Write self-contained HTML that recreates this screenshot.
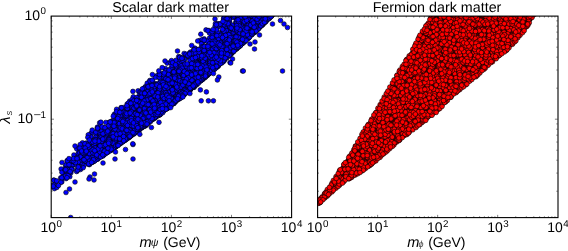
<!DOCTYPE html>
<html><head><meta charset="utf-8"><title>Dark matter scatter</title>
<style>
html,body{margin:0;padding:0;background:#fff}
body{width:568px;height:251px;overflow:hidden}
svg{display:block}
text{font-family:"Liberation Sans",sans-serif;fill:#000;text-rendering:geometricPrecision}
.tt{font-size:14.3px}
.tk{font-size:14px}
.sp{font-size:9.8px}
.lb{font-size:14px}
.mm{font-size:14.6px}
.ss{font-size:6.9px}
.sb2{font-size:9px;fill-opacity:.75}
.it{font-style:italic}
.sb{font-size:10.5px}
.b path{fill:none;stroke:none;marker:url(#mb)}
.r path{fill:none;stroke:none;marker:url(#mr)}
.r path.ur{fill:#400;stroke:#200;stroke-width:2;marker:none}
.ax{fill:none;stroke:#000;stroke-width:1.1}
.tc{fill:none;stroke:#000;stroke-width:0.5}
</style></head><body>
<svg width="568" height="251" viewBox="0 0 568 251">
<defs>
<marker id="mb" markerUnits="userSpaceOnUse" markerWidth="8" markerHeight="8" viewBox="-4 -4 8 8" refX="0" refY="0"><circle r="2.35" fill="#0000ff" stroke="#000" stroke-width="0.6"/></marker>
<marker id="mr" markerUnits="userSpaceOnUse" markerWidth="8" markerHeight="8" viewBox="-4 -4 8 8" refX="0" refY="0"><circle r="2.35" fill="#ff0000" stroke="#000" stroke-width="0.6"/></marker>
<clipPath id="c1"><rect x="51.2" y="16.1" width="240.4" height="201.5"/></clipPath>
<clipPath id="c2"><rect x="317.6" y="16.1" width="240.4" height="201.5"/></clipPath>
</defs>
<rect width="568" height="251" fill="#fff"/>
<g class="b" clip-path="url(#c1)"><path d="M203.2 78.3L99.4 137.8L206.8 57.3L228.4 55.8L198.7 65.9L67 166.0L228.4 12.1L166.1 108.1L131.3 110.6L189.2 65.8L145.4 119.0L181.6 63.7L244.6 10.9L242.6 32.8L145.1 105.3L226.1 38.9L123.2 118.2L109.5 146.5L188.6 91.3L196.1 63.4L148.3 108.1L154.5 118.2L275.4 -23.0L133.5 134.0L176.5 85.5L226.8 33.8L217.8 45.3L233.5 31.3L131.1 124.2L259.2 -7.8L227 55.0L296.2 -38.2L287.6 -1.9L187.2 86.8L222.7 51.0L84.2 149.1L138.1 90.8L139.5 94.1L179.8 96.5L224.3 22.1L277.4 9.2L146.3 123.9L252.2 10.1L167.1 108.1L190.1 83.0L289.2 -2.5L242.2 4.2L193.8 72.4L226.2 20.7L152.7 114.7L187.2 74.2L272 14.5L235.7 48.7L175.9 60.3L140.1 91.8L100.4 154.9L123.3 136.1L200.8 63.2L229.7 39.3L111 131.3L124.6 120.0L143.1 109.3L292.3 -10.2L172 71.8L266.7 -18.6L210.4 47.9L212.5 68.0L254.7 14.7L203 57.4L135.3 111.6L213.2 67.3L97.9 143.1L89 155.1L132 125.8L188.2 72.7L190.4 64.7L208.6 73.1L279.8 -31.2L125.3 113.5L252.6 7.6L165.4 68.6L278.8 -13.6L168.7 107.1L216.7 38.6L164 75.4L299.8 -37.0L198.2 82.4L210.5 51.0L97 153.0L150.6 101.9L299.9 -43.5L132.4 109.7L232.2 43.2L111.3 142.1L129.4 121.7L203.5 66.2L111.3 125.5L160.7 113.3L178.7 56.6L232.4 32.5L112.2 121.4L82.6 145.5L287.6 -38.7L282.4 -3.4L265.7 14.1L213.5 49.8L187.8 72.7L221.2 44.4L108.1 139.9L267.1 -4.0L290.3 -19.9L240.2 22.7L222.7 40.9L62.7 178.2L124.7 140.5L220.2 50.8L238.4 32.5L232.4 52.1L288 -7.4L203.4 51.5L213 69.5L273.2 -2.8L282 0.2L149.5 120.5L206.4 72.8L191.1 88.1L190.5 52.0L260.8 7.5L281 -20.3L235.8 22.2L117.7 134.7L287 -18.1L112.7 145.7L136.7 119.0L197.2 81.3L218.1 54.7L86.2 151.4L125.4 128.9L152.9 119.0L224.3 39.8L125.1 112.7L143.5 110.7L179 63.3L275.7 -2.5L131.6 118.3L288 -23.7L91.7 157.0L144.8 124.1L177.6 75.6L158.9 110.5L186.5 79.4L202.2 78.3L231.3 33.8L168.7 101.1L294.9 -9.0L244.9 41.4L147.1 103.5L279.8 -15.2L124.6 136.2L246.4 33.1L180.7 83.6L149.7 104.9L210.9 48.6L136 121.6L133.5 132.2L145.2 119.2L188.4 80.3L254 17.0L173.7 85.4L138 126.1L207.8 46.3L265.5 -8.7L240.3 41.2L278.5 4.3L274.3 2.9L206.4 75.5L193.7 65.9L165.8 106.0L149.9 94.7L236.6 27.5L162.3 96.4L195.3 61.3L194.5 71.1L176.5 99.0L270.1 14.0L160.3 107.9L216.6 34.8L157 105.6L76.4 158.4L175.6 87.2L269.2 -25.3L140.8 127.7L254 26.7L211.1 63.7L265.7 -5.1L200.9 61.9L224.6 32.0L180.8 90.8L183.9 73.2L125 139.7L172.4 103.8L206.7 60.7L183.3 65.8L154.6 113.5L130.1 109.9L146.4 124.0L150.6 117.5L149 100.2L183.3 82.7L125.1 119.9L116.7 135.2L202.3 77.5L213 66.3L296.8 -12.5L127.9 137.3L130 125.5L216.7 37.3L173.7 102.0L124.6 125.8L121.5 122.7L178.7 80.6L197.9 82.4L276.8 -11.0L253.5 31.9L116.1 142.1L213.6 68.3L247.9 15.5L138.3 119.2L261.3 18.5L211.6 35.6L135.2 112.0L258.5 26.7L289.9 -2.7L174.2 100.8L181.4 73.8L271.4 -25.0L114.3 129.7L233.5 15.4L265.6 21.5L159 114.9L138.9 128.7L227.2 30.0L180.4 97.9L234 35.4L87.7 158.6L145.8 100.2L148.6 122.1L203 73.9L131.3 121.6L287.5 -22.1L276.3 3.6L114.9 123.6L140.8 127.7L99.6 156.3L206.1 48.5L146.6 121.0L236.8 15.0L136.9 130.0L147.8 118.0L133.7 98.1L298.2 -26.6L251.7 9.4L115.2 141.7L210.7 47.3L150.8 109.5L116.4 135.9L262.7 24.8L236.2 43.8L195.2 60.9L171.2 99.3L159.5 106.1L125.7 137.0L201.9 76.5L201.9 53.3L184.7 94.3L242.3 32.2L190.3 89.1L297.9 -15.8L195.4 77.6L209.7 65.9L279.3 1.1L148.3 123.0L132.4 121.9L165.1 102.5L174 99.4L156 116.6L133.8 106.1L213.3 52.6L231 47.5L204.4 40.5L211.7 68.0L187.5 72.2L139.7 110.2L141.8 122.2L152.9 115.8L166.4 84.2L273.5 14.0L188.4 72.0L147 99.9L181.2 86.8L278.4 -12.2L151.7 105.5L288.3 -11.8L188 89.4L108.4 129.7L278 8.4L151.4 104.8L263.2 10.9L252.5 2.6L286.9 -19.6L96.6 136.1L137.5 114.6L230.6 30.9L274.5 -16.7L109.6 142.7L288.2 -40.1L156.1 100.7L194.3 59.4L112.5 134.2L155.3 117.5L259.1 20.7L195.5 61.6L151.2 110.1L259 27.2L253.6 21.1L271.4 -21.5L135.4 132.3L159.3 73.5L186 88.9L175.3 69.2L115.5 128.4L152 106.0L241.4 38.1L268 10.4L83.1 152.9L143.9 106.2L244.6 20.2L286.3 -3.4L228.9 51.0L236.6 34.1L263.4 14.5L296.6 -11.3L156.2 84.7L229.4 39.8L230 26.4L184.3 77.0L82.8 153.3L218.4 65.9L250.9 24.7L249.1 20.4L268.2 11.2L295.9 -9.4L129.8 126.1L219.2 40.4L198.9 75.4L184 59.5L120.9 109.5L183.4 90.1L131.8 127.2L215.6 65.1L185.6 54.6L101.3 134.7L202 60.0L252.3 32.3L136.6 117.7L209.5 38.2L176.2 79.3L255.6 10.2L268.6 17.8L147.1 123.3L153 96.4L212.6 48.0L106 142.2L251.2 28.8L188.3 65.5L175.5 97.4L123 129.8L154.3 90.1L239 30.5L264.2 22.5L143.1 108.5L159.3 94.8L138.8 97.2L226.4 44.8L267.3 -18.9L182.5 95.9L142.7 118.3L175.8 83.8L245.4 20.5L198.9 72.8L127.6 136.8L157.6 112.5L235.1 40.1L233.7 35.3L227.3 49.8L232.5 34.8L88.2 152.3L260.8 0.8L264.7 18.6L105.6 151.4L273.7 6.0L193.4 74.1L179.4 74.6L223.1 31.1L288.2 -9.4L282.2 -11.9L270.9 4.0L153.2 82.5L85.3 156.5L116.1 145.1L244.9 40.3L288.9 -9.3L220.8 58.3L280.5 3.9L156.6 97.0L263.1 9.1L139.6 117.3L293.9 -27.8L251.8 2.1L173.2 91.8L105.6 134.7L202.2 61.2L270.5 -5.0L137.7 105.2L265.4 -1.3L70.9 172.7L254 32.5L245.2 12.1L259.8 2.0L123.4 135.3L154.6 115.0L203.2 41.5L225.9 39.0L107.6 138.4L174.8 96.3L187.2 92.4L241.2 4.3L166.1 90.4L149.2 98.5L276.1 -4.5L198.6 67.8L203.1 77.7L190.8 78.9L265.4 -6.6L292 -31.6L251.6 16.8L131 129.8L125.7 120.9L143.5 121.1L145.4 86.7L235.6 11.6L128.5 121.8L240.8 31.0L191.4 54.2L228.5 48.3L126.9 129.1L199.8 40.5L207 74.8L261.9 -0.4L251 19.3L180.1 57.3L209.9 70.0L224.9 56.0L269.6 -7.3L203.8 59.8L250.5 34.4L123.8 140.4L167.6 94.5L108.9 150.9L205.2 70.6L143.9 91.8L293.8 -32.4L177.4 82.1L190.1 88.3L131.6 134.8L291.9 -5.1L226.7 43.0L241.3 39.8L195.9 70.4L245.1 25.1L291.8 -11.4L278.4 -18.5L174.7 65.7L109.4 124.4L208.2 74.5L162 80.7L199.2 59.2L253.8 29.2L286 -0.3L137.9 98.0L177 98.9L297.7 -13.2L146.9 103.5L175.5 100.0L213.4 48.3L70.4 167.6L267.1 11.4L227 44.6L164.1 106.8L130.1 116.5L292.3 -14.6L142.3 125.5L282.9 4.0L193.6 83.3L206.7 73.5L112.4 141.4L190.9 77.5L186.6 88.7L171.8 81.9L291.9 -38.2L236.4 18.6L113.1 125.0L181.1 84.5L181.3 61.1L133.4 127.2L219.1 37.8L277.1 -20.6L246.3 28.5L280.3 -6.5L187.3 79.5L271.6 -6.0L124.1 126.9L115.2 137.2L126.6 138.3L141.4 109.0L126.5 120.0L105.5 153.4L213 57.9L276.1 9.0L98.4 152.9L245.1 36.5L255.7 30.8L250.2 20.3L236.4 44.2L165.8 108.3L281.2 -14.8L283.1 4.0L61.8 181.9L175.8 100.0L292.6 -10.6L163.2 84.7L118.9 131.3L210.1 69.0L254.2 23.6L188.8 90.6L252.3 12.4L97.7 130.0L183.8 91.8L279.2 -34.6L211.9 71.0L292.2 -21.3L201.2 79.1L203.7 75.0L165.3 105.3L117.4 125.8L248.1 32.0L154.5 116.2L92.4 162.2L236.7 12.1L74.9 156.8L299.6 -51.9L79.6 163.0L232.7 16.2L195.8 56.4L293 -8.6L215.8 65.8L76.7 148.8L131.6 117.8L285.6 -19.0L140.7 111.9L127.5 121.1L274.2 3.9L80.5 169.5L69.7 161.5L243.5 24.1L97.4 127.2L292.8 -10.2L137.5 131.1L218.2 53.1L114.3 114.4L99.3 147.0L72.5 164.9L159.8 83.5L146 107.0L241.8 26.3L243.4 4.9L200.7 78.8L98.8 157.6L252.7 32.9L226.8 56.7L122.2 133.3L129.1 124.8L294.1 -14.2L127.8 131.7L242.9 39.4L159.2 102.8L268.9 -0.2L195.9 81.5L284.7 -3.2L116.4 131.1L184.6 85.9L130.2 136.2L159.1 85.7L210.8 40.1L254.5 22.5L146.3 113.3L295.4 -36.8L116.6 109.3L161.2 112.3L80.4 150.4L209.1 73.2L133.8 125.7L152.1 114.8L137.3 119.5L220.2 62.6L153.9 105.4L204.6 72.5L142.3 125.0L241.4 26.5L66.6 176.6L145.5 102.1L287.5 -25.5L217.9 42.7L160.5 105.4L274.7 -24.4L297.3 -44.6L296.2 -12.1L206.2 64.8L146.3 119.3L215.6 55.5L197.3 52.7L272.8 6.6L256.6 11.0L272.4 14.3L236.8 5.4L283.7 -31.0L226.8 57.1L279.4 -7.8L179.5 96.7L181.8 96.3L206 29.9L227.1 36.4L263.3 -4.1L158.4 103.3L282.1 4.3L215.1 34.6L213.9 65.5L269.8 -9.9L159.2 102.6L144.2 111.4L168.8 79.1L193.5 75.9L137.6 131.2L127.8 111.8L145.4 114.5L252.4 17.7L163.5 97.8L143.2 121.1L77.9 168.1L90.6 163.1L290.1 -9.4L234.4 45.2L210.1 58.6L227.7 23.2L236.4 22.4L258.5 24.5L254.8 10.1L210.5 61.4L120.1 140.2L286.2 1.1L251.5 -2.0L251.2 35.1L174.5 77.0L101.1 142.0L194.9 52.2L212.4 65.5L184 92.6L193 82.2L165.9 87.2L218.6 58.6L262.4 -10.8L200.9 71.5L134.5 115.9L165.8 70.8L126.2 139.5L81.9 156.3L247.6 14.0L154.4 92.3L241.9 41.8L187.2 90.8L264.5 3.7L137.8 123.8L222.5 25.9L103.7 133.8L147.4 123.9L136.4 127.8L230.5 17.2L237.3 47.9L205.1 58.8L154.3 108.0L171 98.1L126.7 127.1L217.5 54.5L219.1 24.0L253.7 6.3L193.1 61.3L159.8 91.9L190.9 73.7L287 -2.1L272.8 -5.3L245.9 31.3L229.4 52.5L220.5 41.3L269.6 -22.3L192.6 77.9L124.5 118.7L287.6 -1.1L178.5 68.4L197 57.8L130.7 135.2L183.1 86.6L278.3 2.8L275.8 8.5L239.2 40.1L205.5 75.6L135.9 111.4L260.6 12.2L158.2 96.4L102.6 132.3L96.9 158.4L294 -40.1L276 9.9L203.1 68.8L236.1 47.5L108 133.4L219.4 48.7L195.9 52.2L279.1 2.4L263 22.1L151.6 115.9L297.1 -31.3L260.3 26.4L215.9 51.5L144.7 106.5L115.5 133.3L287.8 -9.5L272.5 -21.5L207.7 72.3L215 41.7L293.4 -32.7L204.7 47.3L161.3 106.9L111.5 127.6L279.6 8.0L166.8 94.8L293.9 -15.6L126.9 128.6L263.5 23.5L84.4 161.5L286.3 -12.6L255.1 28.2L237.4 31.7L255.4 30.9L208.6 73.4L278.3 -15.5L200.1 58.6L238.5 15.8L197.9 69.7L214 46.3L236.8 38.9L207.9 70.5L285.8 1.4L279.2 7.1L145.5 123.2L252.4 -4.9L148.4 106.8L242.7 26.2L212.4 66.5L112.3 137.9L134.2 117.2L104.2 154.2L127.4 108.6L215 51.0L241.7 36.3L224.3 33.4L134.5 103.4L294.9 -34.9L280.5 7.0L128.4 136.6L133.2 126.5L144.2 118.4L227 51.4L133.1 114.2L157.8 85.5L153.8 89.3L274.2 12.5L217.5 49.4L225 17.2L291 -18.7L127.1 104.1L213.9 64.7L226.6 53.9L207 64.7L158.9 113.9L192.3 87.4L152.3 118.2L217.4 23.7L267 12.9L232.8 42.8L163.5 104.3L251.7 -8.7L231.9 53.1L149.4 108.8L177.7 87.4L138.9 106.3L207.4 53.3L164.3 86.5L131.7 124.7L269.2 4.3L151.8 94.3L233 26.6L145.2 118.9L249.9 33.9L212.2 52.1L149 99.4L171.1 104.4L137.7 126.7L250.8 31.1L214.8 65.8L159.3 114.3L230.6 53.9L142.5 117.7L156.6 116.3L224.4 59.6L288.7 -1.6L155.8 111.5L137.4 114.6L119.3 140.9L169.7 105.7L131 116.4L283.1 -4.3L281.1 4.8L281.7 -1.5L284.9 -18.1L159.6 109.8L134.2 123.3L128.8 136.9L158.2 91.3L218.2 59.8L89.4 136.5L209.1 59.0L180.6 90.6L212 69.5L96.4 137.5L287.8 -1.7L176.1 101.0L94.7 147.1L289.2 -2.9L297.5 -34.0L191.1 66.9L187.5 87.3L153.7 109.4L164.9 97.9L229.7 26.7L206.3 71.2L187.6 79.0L166.3 108.7L180.9 93.9L72.7 163.8L228.6 19.2L101.4 135.5L95.1 149.6L138.2 128.7L116.3 130.5L266.1 6.2L252.9 17.2L279.8 3.5L238.3 18.7L286.4 -21.7L250.9 5.1L103.3 152.6L222.5 60.4L296.8 -9.5L153 115.9L229.5 21.1L261.1 26.1L290.3 -18.2L129 126.2L81.6 153.4L222.8 36.7L194.8 49.1L194.3 83.5L91.2 133.0L284.1 1.1L298.6 -52.0L193.7 84.0L189.4 80.8L140 106.8L156.7 96.5L176.5 81.3L271.1 2.4L271.1 15.5L184.1 78.7L252 19.9L122.4 141.6L157.1 95.1L184.1 53.5L109.8 124.2L115.4 146.8L272.7 12.9L141.8 126.3L272.1 -20.6L197.6 77.5L257.5 11.3L225.6 56.2L280.3 6.5L218 59.2L155.3 108.2L214.8 66.2L275.3 -7.0L281.6 -11.0L104.5 154.2L221.6 50.0L242.1 34.0L138.5 118.2L148.3 101.1L241.7 38.9L184.7 80.2L166.5 97.7L294.7 -9.4L160.2 105.1L124.5 140.6L115.8 138.4L210.4 70.2L286.3 0.4L233.4 45.1L153.1 115.5L168 107.8L116.6 144.3L175.9 88.6L278.1 -19.5L292.3 -5.7L123.5 139.0L295 -8.8L280.4 -18.9L187.8 82.6L251.8 17.9L154.5 113.8L140.4 128.2L195.4 79.5L125.9 133.1L286.5 -1.9L257.3 -3.9L241.5 20.8L161 87.4L269.7 18.0L233 50.0L229.7 22.9L161.2 94.1L185.3 65.6L148.6 99.6L96.2 155.2L122.3 117.5L86.1 143.0L274.6 -2.7L115.4 138.1L104.6 153.3L206.3 76.1L284.5 -11.1L138.9 116.4L293.7 -15.4L99.5 139.3L167.6 101.8L184 74.3L159.3 107.1L100.7 150.6L223.9 50.2L192.1 76.0L127.2 137.5L280.6 -17.8L286.4 -14.8L269.2 15.6L141.6 116.1L280.4 -6.5L211.7 71.5L263.1 15.4L206.9 58.3L159.9 92.8L195 48.2L246.3 16.2L95.4 133.7L287.9 -29.8L215 64.6L241.4 27.7L173.8 97.3L184.5 59.3L281.1 -11.8L120.1 132.8L112.7 148.3L249.7 33.1L117 143.9L137.8 98.1L203.2 55.9L137.7 123.3L285.3 2.4L257.6 27.5L97.8 148.8L230.4 54.2L172.5 104.1L100.4 154.4L143.2 97.1L248.4 37.6L263.9 21.3L102.2 141.9L229.3 43.2L181.5 70.4L166.4 91.2L269.3 17.2L299.6 -23.2L299.2 -16.8L157 115.7L100.1 146.3L164.2 105.0L234 27.8L203.2 78.8L215.4 67.3L215.2 32.4L175.7 73.1L170.5 102.5L106.5 140.9L99.7 156.0L200.9 78.7L279 -7.3L211.8 55.7L103.2 146.3L231.2 46.8L247.6 33.7L291.3 -36.0L123.5 124.1L280.1 7.5L203.4 40.8L89 161.2L186.1 70.4L250 35.5L202.7 74.8L294.2 -38.1L266.2 20.7L249.4 19.3L225.3 58.2L252.6 29.3L241.7 15.1L282.2 2.4L269.1 14.4L151.3 115.2L281.7 4.4L112 148.6L99.6 147.4L197.4 65.2L119.8 139.6L133.4 123.0L142.6 113.8L70.2 165.1L176.8 93.4L144.7 92.1L130.6 134.5L253.8 -0.9L202.3 54.4L197.7 69.5L190.6 89.6L242.4 32.0L232 52.8L220 45.8L227.8 35.0L282.5 0.3L271.7 -1.1L160.9 95.9L273.5 6.6L116.1 137.6L143.8 103.2L138.1 109.7L162.4 87.4L82.8 147.6L104.1 147.8L121.1 130.4L286.5 -13.4L139.2 125.0L284.6 -2.2L141.1 127.1L274 9.9L104.6 144.2L139.4 129.6L297.1 -19.5L251 21.5L293.2 -25.0L255.9 12.1L153.9 115.3L222.7 61.0L65.6 166.5L219.7 37.1L127.9 130.1L138.3 117.8L248.5 31.9L133.3 96.8L237.3 40.2L274.3 13.6L94 148.4L173.3 92.4L141 112.3L127.3 121.7L216.6 42.9L171.8 91.0L215.8 53.8L281.9 5.2L182.4 91.4L241 37.4L216.4 54.6L211.7 67.1L297.1 -33.8L109.5 150.8L155.2 113.2L224 57.9L230 40.9L282.3 -11.2L173.8 86.8L231 49.2L234.4 39.2L173.7 93.6L150 99.1L270.9 11.6L108.4 146.3L231.2 17.0L286.8 -36.5L193.1 58.7L259.5 -0.0L238.5 45.2L117.2 138.0L132.9 127.3L121.6 142.2L292.7 -32.7L258.8 -9.8L193.4 55.7L198.1 81.1L277.4 -21.0L170 72.5L127.6 122.8L120 143.8L226.3 23.9L285.5 -15.2L136.6 130.1L207 69.8L135.9 120.4L120.9 127.3L148.6 111.0L244 7.7L124 112.2L132.4 120.0L252.8 23.2L239.7 30.3L150.8 100.0L128.2 133.4L179 69.1L200.5 51.8L187.4 90.9L166.1 108.7L149.8 80.5L277.9 4.1L259.3 -15.9L211.6 58.9L112 144.8L282.9 -14.9L236.5 48.4L150.8 119.5L122.6 127.4L98.9 142.0L146 117.9L165 94.4L166.6 95.4L238.9 39.6L235.3 48.8L188.6 90.3L192 80.3L238.6 21.2L182.3 76.5L176.8 68.3L192 86.1L271.3 13.6L217.8 63.8L138.8 104.6L132.1 127.8L158.9 112.2L240.9 12.6L245.8 29.6L168.7 92.2L83.2 163.8L109.9 123.1L243.9 37.4L123.3 130.0L73.9 155.0L228.5 45.6L296 -24.2L217.5 55.1L250.9 34.7L235.8 46.1L190.3 66.4L259.8 13.4L243.3 42.9L103.9 142.6L277 -33.0L253.3 29.4L248.4 35.2L238.7 42.1L223.4 30.4L66.1 178.6L217.2 54.1L208.4 59.7L75.7 164.7L152.7 118.7L163.5 75.6L243.2 26.5L284.1 -7.6L293.3 -9.1L145.2 122.3L151.5 112.3L283.3 0.5L268.6 18.2L194.6 52.9L264.1 13.5L85.2 152.2L232.3 8.3L213.7 40.1L257.1 13.1L103.4 130.7L206.3 55.5L137.5 103.6L215.9 57.7L204.7 77.8L114.5 145.2L155.5 94.2L145.5 123.2L202.4 77.8L140.2 114.3L195.5 60.7L189.3 53.3L247 13.4L185.2 83.1L209.7 44.5L147.4 122.0L196.4 84.9L201 61.3L213 69.7L295.1 -7.9L180.1 80.6L209.9 54.8L257.7 18.0L167.3 83.1L172.7 71.7L270.2 -10.0L133.7 126.9L103 155.5L266.6 13.0L132.5 134.2L266.4 15.8L145.9 104.8L235.1 48.6L69.8 176.7L199.8 79.5L287.1 -0.7L205.3 58.2L277.3 9.5L135.4 106.5L211.5 56.0L221.4 46.4L120.1 138.9L220.1 61.2L92.2 130.1L280.2 -12.9L179.9 59.0L155.5 111.3L197.8 57.4L297.8 -47.4L212.4 62.7L80.7 166.1L132 114.1L275 -5.3L209.6 72.5L191.4 66.2L125.3 131.1L181.3 96.3L127 137.6L192.5 53.1L155.8 114.3L143.2 122.8L199.7 79.0L153.2 94.7L116.2 128.7L240.9 28.6L268.9 17.8L146.9 104.2L286.4 -2.9L173.2 82.9L110.8 147.7L148.2 100.0L123.5 121.5L291.9 -32.9L206.2 70.5L151.7 100.0L188.4 86.1L293.1 -28.7L99.9 133.7L274 10.6L299.8 -13.6L262.9 23.0L274.7 -3.9L291.9 -37.6L117.5 142.6L278.1 8.9L223.6 44.3L250.7 19.0L207.7 51.6L147.2 83.2L153 101.2L187.6 83.7L126.2 128.6L142.4 118.1L150.2 104.8L192.8 75.9L265.7 -11.2L222.8 59.7L93.1 160.5L115.9 140.5L234.4 48.4L208.4 49.6L223.2 49.1L280.4 4.1L116.2 141.0L124.3 135.2L239.6 11.3L245.7 29.3L299.4 -28.5L117.5 141.2L198.4 72.5L89.3 135.2L291.8 -27.7L256.6 30.6L144.2 121.6L260.5 16.7L173.7 79.7L188.2 73.5L169.4 80.2L126 131.6L218.6 60.8L258.9 7.2L223.1 40.1L285.7 -1.6L167.4 108.4L177.3 83.7L155.2 101.8L296.1 -9.6L112.7 120.6L213.4 69.2L169.3 93.6L194.1 76.1L217.1 48.8L287.4 -13.9L93.8 160.6L125 138.5L129.7 101.1L279.1 -5.8L190.5 89.1L169.2 107.0L180.7 85.6L233.9 44.5L136.7 112.2L220.1 44.0L124.2 139.9L261.5 24.4L261.8 21.0L78.7 153.4L183.7 70.6L107.6 140.3L124.1 129.8L191.3 81.4L289.3 -32.3L193.2 72.9L202.1 78.9L263.9 4.1L152.3 95.2L176.2 87.0L264.1 9.8L241.9 16.7L116 139.3L141.2 123.8L266.5 -11.3L231.6 29.4L292.4 -21.2L290.6 -9.8L64 174.5L173.8 74.8L260.3 -6.7L188.5 91.0L182 69.2L207 70.2L254.2 28.2L102.3 149.6L255.8 24.0L146.3 100.3L283.7 -24.0L174.1 102.5L161 90.6L288.9 -1.1L217.6 59.5L146.5 116.7L276.7 8.9L242.8 17.5L142.3 118.5L280.5 3.1L290.6 -46.2L219.3 51.3L278.8 -7.7L210.1 59.1L201.4 64.1L209.9 71.8L101.1 151.0L298.2 -38.4L163.6 102.1L117.3 134.6L228.8 51.7L207.6 75.3L143.9 115.9L278.1 -11.4L146.8 111.0L269.8 11.8L155.4 84.2L289 -8.1L247.8 32.8L141.9 127.8L229.8 41.4L143.1 102.1L217.8 62.6L219 64.1L276.3 6.4L193.3 62.7L252 17.2L125.7 125.6L160 97.1L249.1 -1.6L266.8 1.5L161.8 111.3L270.9 16.3L286.9 -33.6L128.3 138.0L279.5 -10.0L99.6 138.2L289.4 -11.4L161.5 102.9L172.5 103.3L267.5 18.1L218.4 65.4L281.3 5.5L185.4 82.5L103 150.8L60.7 177.9L298.6 -23.5L219 45.7L122.8 129.7L267.3 -1.8L251.8 18.7L196.6 65.6L294.1 -6.9L208.4 73.6L148 117.5L263.2 22.6L213.2 68.4L237 47.1L272.3 0.4L227.6 44.5L287.8 -1.8L266.1 19.1L262.7 -10.3L206.1 61.8L208.9 30.5L200 75.4L158 114.9L229.8 44.9L273 4.3L208 55.1L265.4 -8.7L148.2 121.1L120.8 115.3L276.8 1.8L160.3 110.6L160.6 86.1L117 134.9L299.4 -12.1L278 -0.5L171.9 95.6L204.2 38.9L115.5 146.8L219.7 47.7L220.6 47.4L219.6 59.8L242.2 43.7L280 4.9L236.9 6.9L179.6 57.4L171.9 103.5L113.5 145.8L199.9 55.4L116.6 142.4L140.4 124.7L251.5 34.7L123.1 129.9L210.2 70.3L168 99.3L299.1 -29.1L275.5 6.4L253.5 31.9L214.6 61.3L131.5 128.2L189.4 73.4L209.4 53.1L187.1 90.6L291.8 -26.6L124.6 113.7L226.7 37.6L271.3 8.3L207.1 41.2L71.9 165.7L260.5 -4.5L147.4 122.9L82.7 143.9L255.2 13.8L181.2 91.3L291.4 -12.3L127.9 128.8L77.2 170.9L266.5 20.2L110.1 147.4L251.4 33.8L232.4 43.0L233.7 25.8L258.1 28.3L157.9 110.5L158.9 109.9L256.1 12.5L202.2 39.7L182.4 91.0L69.8 172.1L163.1 97.2L177 65.8L166.6 108.6L293.7 -6.7L256.5 20.7L103.7 134.1L102.2 139.3L229.4 49.8L218.5 37.6L155.9 107.1L264.9 16.0L258.7 18.1L214.1 69.1L112.4 140.1L265.5 16.6L157.1 113.9L118.5 127.5L285.7 0.1L143.4 113.7L295.3 -30.8L241.8 43.6L212.8 69.1L231.5 46.4L106.1 152.1L236.7 20.2L110.8 133.6L135.7 113.8L270.5 9.5L212 59.4L266.8 2.0L62.8 177.0L172.1 99.2L260.2 22.6L215.5 64.1L241.4 40.8L267.2 3.5L202.1 51.7L122.9 118.6L201.8 74.0L242.3 23.3L197.3 80.0L207.8 52.9L102.3 151.5L203.6 68.8L257.5 27.9L66.8 172.8L159.8 111.7L182.9 75.1L101.7 150.1L284.7 1.8L188.6 67.0L122.3 125.9L208.1 56.9L216.5 28.6L159.3 91.2L102.9 150.6L208.4 55.7L119.1 136.4L157.9 112.4L191.1 87.4L252 34.3L219.2 46.1L249.2 37.0L163.2 86.4L211.4 57.2L134.7 123.5L131 102.0L125.2 120.9L104 137.0L233.5 31.5L112.8 122.3L297.8 -27.6L157.1 113.9L164.9 99.6L122.5 121.5L296.9 -11.3L193.2 60.5L123.3 121.3L190.9 82.8L285.7 1.4L152.4 114.5L261.2 -4.3L217.6 62.6L132.8 114.0L94.4 156.9L91.8 153.5L289.7 -42.5L156.7 75.8L137.8 120.8L257.3 12.4L218 40.8L66.9 172.3L213.5 59.3L169.3 100.0L111.7 148.8L230 52.7L71.2 160.3L81.8 163.1L250.6 15.4L139.7 114.6L115.8 113.9L172.7 72.2L204.4 49.1L291.7 -25.2L270.1 5.5L228 45.3L124.8 123.0L276.6 -22.5L206.9 56.2L251.5 17.7L192.8 86.4L246.2 32.1L110.9 144.6L286.2 -14.5L238.2 14.4L134 116.7L98.3 158.4L269.1 13.9L248.4 27.5L295.1 -29.9L248.2 37.7L147.1 91.1L159.6 106.2L132.7 126.6L130.8 109.9L224.3 27.1L105.5 153.4L207.4 49.5L110 148.5L167.2 102.7L279.6 7.7L258.1 -7.0L264.7 14.8L170.7 68.6L209.2 50.6L128.1 123.5L215 42.1L87.3 144.1L170.9 92.7L139.1 109.9L148.2 112.5L192.9 77.5L272.7 6.7L267.4 6.6L145.6 98.1L168.9 100.8L209.7 60.8L175.2 92.3L95.9 159.4L226.2 57.9L90.3 137.9L199.3 63.9L213.6 49.8L285.3 -16.0L149.3 103.9L127.7 125.9L143.6 97.7L286.6 -29.8L205.9 53.5L291.1 -24.4L259.1 27.0L132.9 124.8L248.3 11.8L299.2 -43.4L152.8 115.9L289 -4.3L266.9 -11.9L214 55.2L287.1 -18.2L299.2 -37.2L229.1 55.3L161.8 86.8L226.3 14.6L211.2 45.3L139.2 129.8L294.9 -24.1L293.4 -7.7L108.8 146.9L121.1 107.6L136.2 123.6L202.9 76.1L270.4 -8.2L104.4 132.8L275.8 8.1L252.9 32.5L109.2 146.4L114.7 131.4L215.1 61.5L277.6 6.4L194.3 57.0L111.2 150.3L121 120.1L241.8 6.5L287 -2.5L115.4 142.5L193.4 53.0L174.2 83.5L249.6 35.0L262.7 -3.8L96.7 148.4L221.3 62.7L205.6 71.9L272.5 10.8L260.2 16.9L123.2 141.0L123.1 140.8L110.3 132.3L254.3 26.1L279 7.5L112.3 147.7L277.1 -18.2L268.2 3.8L223.9 59.4L98.7 148.9L175.4 101.3L97.7 159.2L214.8 49.8L166.6 90.0L197.8 72.3L194.6 60.9L188.5 74.0L141.5 110.5L257.4 11.4L286.3 -1.0L128.4 125.5L192 83.5L197.4 53.2L149 105.5L266 3.2L190.7 65.8L167 98.0L282.8 1.9L131.7 135.2L214.6 67.8L209.3 64.3L177.2 97.2L164.1 110.0L227.6 43.8L124.3 121.5L66.1 164.9L197.9 57.1L187.3 85.9L234.5 36.2L122.7 113.4L283.1 -9.3L283.3 -8.9L289.9 -31.4L134.1 127.1L228 48.0L282.6 -7.9L230 44.2L265.7 -0.5L279.1 7.1L132.8 106.4L146.4 108.0L130.3 117.4L279.2 2.7L232.1 37.4L284.3 -28.0L222.6 61.0L172.8 94.5L176.5 100.4L227.3 46.7L149.3 106.7L152.6 119.5L246.1 26.0L148.3 116.0L78.3 153.3L87.5 153.2L61.8 177.8L278.7 -7.4L272.3 13.0L208.7 70.9L121.3 141.6L92.9 156.1L219.5 60.4L115.8 144.7L271 -4.8L263.2 23.8L292.2 -8.0L61.1 169.0L168.4 75.0L152.1 116.5L119.6 128.6L157.6 100.6L175 74.1L169.1 96.7L271.7 4.4L232.5 49.4L156.9 114.5L289.4 -24.7L166.5 76.9L256.4 30.1L238.6 22.6L167 101.7L297.4 -33.9L228.4 54.8L99.7 132.9L209.6 52.0L283.6 -25.3L290.9 -31.8L230.8 51.6L135.4 131.0L274.3 11.1L193.6 71.0L286.3 -11.6L145.6 125.8L255.9 30.8L280.4 -27.7L276.1 7.1L205.4 47.6L108 152.1L141.8 125.5L206.7 74.8L255.7 30.8L218.8 34.8L259.9 25.8L204.3 68.0L184.6 89.6L164.5 104.8L190.9 73.1L260.5 13.8L246.1 19.6L134.2 126.6L178.2 98.1L130.5 113.5L140.8 128.1L121.6 135.6L228.4 29.0L223 55.9L158.3 106.4L139.7 128.8L288.1 -5.4L218.2 64.4L225.6 43.5L212.1 54.7L230.6 36.6L252.9 13.3L276.9 6.2L138.3 115.4L269.1 17.1L230.9 54.2L120.6 139.9L207.7 55.9L191.9 70.7L151.1 113.9L277.4 9.0L265.7 13.7L211.3 71.4L167.1 63.1L94.5 158.9L101.7 127.2L139.4 128.9L103.5 133.3L131.8 125.9L260.9 6.5L218.3 41.2L250.6 -1.9L169.7 83.8L141.6 125.1L165.8 80.8L258.1 29.2L92.4 162.1L239.7 29.1L297.5 -26.3L121.7 130.7L208.2 51.4L122.8 141.0L155.4 77.4L195.3 55.9L132.1 119.1L177.7 80.1L141.3 127.6L205.4 62.9L95.1 156.2L161 96.9L237 43.4L183.3 92.5L226.5 50.5L173.7 102.3L246.5 23.9L298.6 -43.6L169.2 94.9L182.5 76.9L156.6 114.9L191.2 85.3L286.3 -21.7L172.6 101.1L130.2 136.6L215.1 55.3L139.7 103.6L257.9 28.9L195.4 83.5L298.6 -14.8L284.9 -0.8L169 100.0L138 130.3L147.3 107.3L113 144.3L108.6 122.5L132.1 134.2L260.2 -3.0L195 73.4L222.6 32.1L165 80.7L132.5 105.5L138.2 102.2L286.9 -45.6L190.6 83.0L244.4 18.7L212.9 68.5L255.4 22.9L174.8 93.9L250.3 18.5L118.1 143.9L224.3 50.2L290.4 -3.8L184.6 72.4L168.1 102.6L149 104.3L216.3 49.1L90.4 136.7L226.6 56.7L260.9 15.0L189.5 90.1L144.2 124.9L177.4 87.9L247.1 14.8L135.8 125.6L280.9 -13.3L122.5 133.2L141.5 111.3L223.8 32.7L177.5 68.4L240.4 37.7L277.4 -9.9L182 82.7L145.3 109.3L178.3 77.2L220.2 44.4L89.9 163.4L112.1 137.2L235.4 29.2L95.8 132.1L89.4 146.2L172.4 79.4L220.1 44.2L223.9 50.8L244.6 39.4L193.6 84.8L134.7 129.6L146.6 124.5L284.8 -1.7L276.6 -18.1L252.4 5.8L296.1 -40.1L273.9 -8.8L241.5 29.5L263.4 11.7L120.4 135.1L234.4 29.5L93.4 161.4L120.9 131.8L164.4 87.8L84.8 153.4L211.2 63.3L254.1 24.0L189 57.6L217 59.4L168.6 88.6L236.4 48.8L137.7 100.6L228.1 42.4L153.6 112.7L131.4 111.1L141 120.9L205.6 77.0L202.6 79.4L116.4 111.7L157.4 97.3L147.8 117.8L209.4 33.0L153.2 99.6L111.5 137.7L183.4 70.7L279.7 -18.3L179.7 86.0L113.9 136.5L219.4 24.1L243.8 34.9L273.3 -4.5L125.7 119.9L132.5 124.7L122.6 121.3L213.7 41.7L202.6 52.7L276.9 -9.0L233.7 16.9L289.9 -3.3L230.2 46.7L283 -2.1L84.1 165.4L100.8 156.8L83.2 167.7L213.2 38.3L226.7 34.5L231.8 28.4L144.8 110.7L100.3 142.6L152 117.0L123.8 132.1L203.7 58.4L165.4 101.7L141.7 107.4L223.6 50.1L295.4 -37.3L199.5 58.5L132.3 127.1L290.4 -12.8L235.1 49.0L156.5 108.5L184 64.8L219.7 24.5L220.3 62.9L245 34.7L259.8 5.3L205.3 61.6L241.9 27.3L142.3 127.0L236.7 46.9L281 3.8L239 35.8L152.2 105.3L151.8 99.9L278.5 -6.4L242.3 30.1L176.7 83.3L271.7 13.2L99.6 122.9L152.9 113.4L297.6 -19.4L121.9 140.9L202.2 72.4L277.1 -28.0L140.9 104.2L177.7 76.8L163.6 77.2L276.3 8.1L294.6 -10.6L142.9 102.1L117.3 135.2L111.6 136.6L291 -19.2L97.3 128.7L76.6 171.5L240.7 44.9L101 134.3L266 19.9L254.7 30.4L190.8 82.1L253 10.5L165.1 96.9L169.4 88.3L122.3 138.0L207.8 53.2L77.7 158.8L114 143.1L217.1 34.4L200.8 34.2L133.2 129.6L239.4 36.4L163 109.9L156.4 106.0L251 7.3L118.4 135.5L157.7 107.8L191 82.6L102 130.7L82.2 163.5L268.1 2.4L253 32.7L65.6 169.0L170.8 98.9L289 -23.1L128.4 124.9L215.5 50.7L201 54.5L143.9 126.2L293.1 -12.0L249.9 9.7L265.2 5.8L107.8 136.3L159.6 92.5L237.4 27.1L110.1 143.1L203.6 57.8L287.2 -1.2L225.8 57.5L258.8 11.1L257.7 27.9L217.9 63.6L277 -18.2L279.5 -5.7L123.7 116.7L113 148.6L239.6 27.1L109.6 133.4L53.9 180.1L162.8 105.9L296.2 -8.9L135.4 118.0L224.5 29.9L130.6 132.9L105.3 151.9L158.7 103.3L134.8 122.6L154.2 113.3L280.9 -27.1L254.9 20.7L275.9 -4.8L261 3.6L274.7 -2.7L114.3 130.7L61.9 172.3L261.3 23.7L216.5 63.2L115.2 132.6L280.1 -0.5L152.7 110.0L121.6 139.4L98.9 147.9L284.5 -4.8L288.9 -13.1L277.9 -3.1L295 -45.2L247.3 23.3L281.2 4.1L259.4 14.7L147.1 101.3L161.3 109.7L142.8 121.3L110.8 148.3L200.7 69.1L275.1 -12.1L206 55.9L171.4 101.0L168 103.4L159.6 107.1L262.1 18.7L194.2 54.2L248 23.9L254.4 -1.7L123.2 139.5L94.3 161.2L252.8 17.2L272 14.3L216.8 27.9L222.4 47.8L149.2 112.3L169.4 103.1L65.6 175.8L115.1 116.4L255.5 19.2L180 90.9L214.1 65.8L189.2 56.1L176.7 69.2L115.5 143.9L225.7 51.4L79 147.7L107.1 152.5L231.9 52.5L166.1 108.5L141.7 127.3L231.5 38.9L212.5 65.4L208.7 50.6L249.7 19.4L249.4 35.5L266.4 20.6L85.9 157.8L226.3 26.6L285.5 -23.4L275.5 8.1L82.5 142.8L84.4 152.6L81.1 162.2L214.5 56.1L276.4 -28.1L77.7 158.1L141.6 112.1L199.3 73.0L157.2 108.1L92.3 148.5L228.9 54.0L175.6 99.5L294.9 -13.8L222.8 57.2L164.8 87.3L298.5 -13.8L133.3 129.1L123.3 107.5L105.6 137.9L287.8 -6.2L109.5 149.1L144 108.7L281.7 5.0L277.3 -36.7L237.6 45.3L117.5 144.0L267.5 19.0L131.8 117.6L229.8 54.6L226.2 55.8L172.9 88.1L145.8 103.9L291.9 -12.6L297.7 -36.7L264.8 12.9L108.1 132.7L150.2 98.5L112.5 148.9L121.7 119.5L193.7 84.4L194.2 87.3L254.5 31.1L192.2 78.2L186.4 73.0L158.7 91.1L224.2 24.8L245.5 13.7L257.3 3.6L118.8 143.1L139 123.6L190.6 88.5L128.8 131.4L201.3 43.8L103.9 128.0L281.6 -19.3L253.6 17.7L195.2 76.8L120.9 126.3L166.2 108.8L215 57.9L233.9 51.1L294.5 -8.8L290.5 -3.4L270.9 7.4L133.5 132.1L131.7 107.6L180.7 91.2L165.3 107.8L115.2 132.8L199.6 57.8L193.7 87.1L232.7 51.7L121 140.7L228.1 54.0L165.9 88.5L251.9 33.4L287.3 -7.0L123.9 133.1L154.2 89.0L293.5 -16.0L122.9 141.1L232.3 46.7L133.3 105.8L231.2 44.2L256.8 8.1L164 95.7L89.4 157.2L259.5 26.9L179.1 96.6L158.1 111.5L277.5 5.1L190.8 82.9L125.9 136.5L159.5 115.0L165.5 96.8L288 -17.3L108 148.1L288.8 -36.7L218.8 55.1L134.2 131.9L135.9 123.8L273.6 7.6L129.7 123.4L135.5 131.5L285.9 -29.3L142.9 124.6L146.6 117.1L140.7 128.0L179.4 97.6L227.1 56.0L193.6 80.7L239.2 18.3L139.6 109.5L134.4 132.6L186.1 87.1L176 78.8L267.7 17.9L242.7 37.6L50.7 185.2L106.5 143.9L182.1 82.0L119.5 143.6L254.8 32.4L222.4 61.9L93.2 145.6L135.1 113.1L240 10.0L260.2 26.2L184.5 71.8L289.3 -20.6L237.3 28.2L90.8 136.9L167.3 72.8L223.7 60.1L165.5 92.1L191.7 56.4L253.2 32.1L156.1 116.7L149.8 116.0L205.4 56.1L159.6 99.2L95.7 137.3L265.8 10.9L99.8 138.0L229.3 32.6L284.3 -6.9L234 47.6L150 110.7L286.1 -11.9L166.4 99.6L65.2 169.7L263.7 22.8L178.9 93.9L232.3 33.8L203.3 53.7L283.7 -17.0L167.3 108.0L68 175.6L275.7 0.9L187.9 85.5L141.1 127.7L144.2 114.5L179.8 78.9L265.8 18.1L214.3 66.6L255 29.8L113.7 147.7L236.9 34.8L214.6 66.2L161 104.0L183.2 67.9L191.3 78.3L209.7 64.9L81.3 151.9L244.4 35.7L131.6 135.3L271.8 9.3L185.7 88.3L121.1 132.3L148.1 114.6L243.2 1.7L254.7 14.2L286.7 -0.1L282.7 -16.4L290.4 -4.2L249.2 14.3L256.7 15.8L231.8 43.6L194 54.9L260.9 16.6L109.7 138.1L222 50.1L212.7 64.7L262.8 -0.4L292.5 -31.9L182.3 82.0L279.9 -1.4L243.4 30.4L164.9 107.7L129.5 137.2L205.4 50.3L116.9 137.8L264.4 7.9L203.6 61.1L98.4 153.6L249.3 11.9L241.1 36.5L222.6 61.2L257.9 15.0L121.2 143.0L205.2 59.9L118.5 141.2L227.4 33.4L147.5 117.3L146.3 116.4L130.9 116.2L137.5 130.0L129.8 136.5L200.9 73.0L153.2 117.1L177.3 67.2L284.7 -6.1L203.2 47.9L294.6 -27.0L191.4 60.1L262.8 19.0L269.3 10.9L164.3 94.8L278.3 5.5L236.3 48.5L150.1 81.1L212.5 65.3L290.1 -18.4L238.6 44.4L285.5 -24.8L298.8 -29.4L204.2 40.2L192.6 74.9L115.5 136.0L172.2 90.6L175.3 101.3L126.8 108.8L185.8 71.7L132.8 125.5L96.3 148.5L187 82.4L67.1 160.7L226.2 53.3L239.1 34.2L275.7 2.1L217.6 45.7L127.5 134.1L200.9 54.7L218 26.8L241.2 15.0L142.8 113.8L129.1 115.7L154.6 109.8L197.2 84.0L282 1.3L91.4 153.7L251.2 30.6L130.3 133.2L279.4 7.8L141.7 107.4L115.3 144.3L126 123.2L83.2 151.3L236.9 23.1L223 37.3L294.1 -6.2L243.2 41.5L174.9 102.2L125.6 114.5L267.4 0.2L102.5 155.6L202.5 77.9L193.6 86.7L243.9 31.2L123.7 132.2L225.3 53.9L286.2 -29.8L190.3 65.5L167.1 83.1L241.3 35.4L139.4 121.3L214 59.8L243.9 42.0L138.6 129.9L89.9 145.0L198.3 63.5L174.6 85.3L180.9 79.5L134.3 133.7L225.2 52.2L255.8 18.5L261.7 24.6L221.4 34.4L259.7 4.2L129.7 136.3L213.9 68.6L268.3 13.1L175.9 91.3L239.7 46.3L258.6 -11.3L232.1 25.2L167.9 89.1L262.7 20.2L243.4 40.2L115.7 127.6L288.1 -15.6L181.6 86.1L159.8 114.7L127.5 135.1L284.5 2.7L126.9 131.7L228.4 53.9L128.3 103.2L281.1 -11.7L145.7 99.7L243.7 23.1L136 114.3L298.6 -21.1L182.8 95.7L89.7 161.9L133.7 128.6L281.4 -21.4L265.1 13.9L254.3 5.0L215 64.1L251.1 20.5L133.8 133.7L217 66.9L117.2 144.1L72.2 168.8L96.5 159.5L248.6 17.3L282.7 -0.8L212.9 52.7L272.4 -11.6L230.3 27.6L264.6 22.4L225.4 33.5L213.6 55.0L281.5 -9.3L192.7 80.1L292.3 -9.9L277.9 9.8L275.8 8.6L215.1 54.4L256.6 25.4L160.8 92.4L289.8 -15.4L273.1 -14.3L182.7 87.2L203.8 53.5L145 117.1L236.2 46.4L291.7 -9.8L122.2 128.9L156.8 111.6L125.7 134.8L112.6 147.3L196.9 55.1L252.3 11.9L250.6 13.0L67.5 169.3L211.7 53.3L188.8 89.5L293.6 -34.1L295.2 -33.6L108.8 129.9L210.6 62.5L255.6 0.7L228 34.3L186.9 73.2L274.7 -22.6L196.9 82.4L168.6 80.9L236.1 29.7L293.1 -22.6L213.6 69.3L253.6 17.4L209.3 66.9L101.2 155.9L228.8 50.8L171.6 100.9L249.5 -0.3L233.7 14.4L150.7 85.5L134.5 122.6L281.5 -13.0L269 17.2L287.9 -3.0L258.6 14.1L143.6 115.3L285.7 -30.8L227 57.3L166 78.5L124.9 136.3L109.6 141.6L128.5 119.1L246.2 31.5L190.5 82.7L149.4 96.1L123.3 133.8L190.9 80.9L79.8 152.7L224.3 56.1L257.7 18.0L242.5 36.8L280.6 -6.1L243.7 24.9L177.5 83.5L265.2 18.4L154.7 104.7L256.5 29.9L195.9 70.5L191.2 77.4L137.5 123.6L283.1 3.0L200.3 56.9L254.4 -2.2L200 80.8L279.3 -8.2L212.3 42.7L276.7 9.4L178.4 98.8L86.9 161.2L151 117.2L119.5 127.0L211.9 43.8L101.8 149.2L265.8 18.8L225.3 58.7L122.1 133.0L179.3 69.1L129 136.3L159.4 114.6L102.1 126.8L297 -58.0L271.2 3.5L282.6 -40.2L173 102.2L150.1 118.8L139.3 122.6L273.6 -13.3L218.4 24.9L200.7 67.8L298.1 -44.7L205.7 71.8L159.2 112.2L290.8 -8.2L262.1 24.5L289 -14.1L257.4 4.7L199.5 66.5L275.3 3.6L117.5 118.4L171.1 99.0L218.5 56.1L229.4 26.2L291.9 -34.5L219.4 34.7L160.4 81.3L135.8 132.3L243.9 35.1L144.4 102.3L89.5 151.6L224.2 54.2L107.1 146.5L251.1 31.1L166.9 96.4L121.4 134.5L197.7 72.6L214.9 45.6L193.3 80.0L106.1 146.4L141.2 100.1L117.4 120.2L234.5 38.4L266.9 16.9L157.5 112.4L256.5 6.3L273.3 13.0L222.2 34.2L194.7 69.6L127.4 108.4L215.5 64.3L263.7 21.6L198.8 51.4L297.6 -24.6L145.4 112.0L175.7 101.3L294.9 -9.2L218.3 49.3L240.6 19.7L161.3 99.9L214.3 37.1L271.5 15.8L213.6 65.2L105 127.7L169.4 101.3L201.6 76.2L126.4 128.2L209.3 70.9L251.5 24.5L139.7 119.1L216.3 65.7L286.2 -23.4L265.6 18.2L274.3 4.1L137 114.2L271.6 12.5L257.5 25.2L220.1 24.2L215.1 56.1L238.8 45.6L287.4 -36.8L146.3 111.5L273.9 -17.2L277.2 4.3L145.2 110.1L101.7 145.0L248.7 38.2L100.5 149.5L95.5 157.6L156.4 114.4L160 105.3L169.1 70.1L278 9.2L245.1 16.6L285.7 0.0L244.9 0.8L285.4 -10.6L270.4 1.2L160.5 114.3L203.8 77.6L163.9 93.2L166.2 94.1L271.8 -3.9L155.2 117.3L146.8 107.2L169.6 104.8L152 95.7L257 22.4L146.6 114.9L112.8 126.0L200.3 68.8L183.5 71.5L165.4 90.8L180.8 96.4L113.3 116.2L182.3 93.3L236.5 48.8L167.8 77.1L210.1 53.0L247.5 12.6L93.9 145.7L295.3 -12.0L280 -2.4L235.7 49.2L288.6 -21.0L276 -16.1L208 30.7L200.2 81.2L132.1 134.1L295.9 -11.7L276.1 1.0L182.4 96.7L287.5 -17.1L248.3 35.4L132.3 125.1L191.7 57.7L197.7 41.0L274.2 6.8L288.3 -27.9L287 -24.9L170.2 91.5L167.6 98.8L248.6 12.7L136.5 124.8L205.2 75.6L125.9 123.4L212.5 55.9L242.9 31.6L293.6 -24.6L140.3 101.6L264.4 12.5L192.7 68.7L164.7 106.3L294.7 -29.1L215.8 42.3L109.1 142.0L140 113.9L101.4 148.6L234.4 44.9L187.1 70.2L143.7 126.5L155.4 110.2L140 121.2L123.2 139.5L248.4 29.5L180.7 72.4L276.2 -11.9L265.8 -7.7L220.7 34.4L297.6 -43.1L104 143.7L71.6 169.7L275.4 -18.2L104.1 154.2L140.1 125.6L269.6 17.3L149.5 95.4L124.4 134.7L148.6 122.6L251 24.3L213.8 67.4L165.2 93.9L138.1 107.8L261.7 -12.2L128.4 136.7L112.3 146.7L150.6 121.4L147.6 96.5L136.4 120.3L131.8 106.8L211 56.0L286.2 -14.9L280.8 2.7L159 105.7L264 22.9L190.7 79.3L231.2 38.8L219.5 40.0L127.7 129.3L109 148.8L264.3 16.7L262.2 13.6L224 60.1L112 137.0L296 -18.9L216.6 67.2L197.1 72.7L175.8 91.5L261.7 25.4L117.1 142.4L228.6 54.4L204.3 63.3L129.9 131.9L193.6 79.0L221.6 49.5L113.8 137.8L165.5 102.7L297.5 -28.6L161.8 103.5L137.3 125.1L254.9 18.5L247 31.2L103.8 140.2L147.8 97.1L131.4 129.7L223.4 60.5L252.2 9.9L211.3 55.3L296.7 -31.8L128 118.3L228.5 55.4L108.6 138.8L211.9 56.6L163.9 97.0L97.6 128.2L281.6 3.3L121.5 107.9L183.1 88.6L198.5 66.9L221.5 37.7L139.1 129.5L256.9 29.5L237.9 29.5L127.4 128.9L116.8 145.8L233.4 49.2L149.2 91.4L100.2 155.0L220.3 47.3L287 -21.4L249.1 6.4L126.2 137.2L145.7 106.5L217.8 48.3L121.9 128.1L268.4 -3.0L220.1 57.6L133.5 132.9L245.6 26.1L136.6 113.6L271.3 16.0L299.8 -55.2L206.8 72.6L233 41.3L276.3 2.4L113.7 142.9L273.6 13.6L153.4 108.7L171.9 65.2L279 7.2L150 98.4L299.3 -43.6L232.4 7.3L167.3 108.4L205.2 53.6L222 56.1L241.1 33.4L293.7 -31.2L176.4 88.1L139.5 129.4L260.9 25.7L289.9 -42.8L230.3 50.4L171.6 97.8L223.8 61.3L150.1 118.8L277.3 -0.8L132.3 130.1L206.1 75.3L226.6 53.8L219.1 64.6L158.4 113.7L130.4 131.6L243.2 20.5L105.8 122.5L134.1 128.3L268.3 8.0L286.9 -8.0L192.3 83.3L175.4 85.9L78.3 159.1L259.1 4.7L113.8 147.1L284 -2.7L124.5 139.9L247.4 38.0L255.1 27.4L225.4 31.9L136.5 118.6L238.9 37.4L265.9 11.2L296.6 -38.8L214.7 69.0L242.3 13.2L290.7 -28.1L299.8 -45.9L216.7 61.9L167.3 107.4L297.5 -36.9L145.2 124.7L255.8 20.1L260.6 -2.0L125.6 121.6L144.4 126.0L243.7 27.3L280.7 -0.7L120.9 116.0L288.5 -45.5L270.9 14.3L275.5 4.0L121.7 141.0L139.6 109.0L233.5 32.1L228 38.5L158.8 91.9L165.9 78.7L124.4 114.8L280.9 -4.4L223.8 52.9L196.4 75.0L163.8 110.9L195 66.8L287.2 -6.6L259.7 -1.9L229.3 19.2L189.1 77.8L201.6 47.0L161.2 109.6L96.6 151.3L270.9 -6.2L178.8 99.0L246.4 27.9L134.7 114.1L262.4 -4.4L225.9 35.3L167.6 90.3L284.5 2.2L177 75.5L150 85.5L243.4 37.0L285.8 -17.0L195.2 53.3L223.3 30.3L101.2 150.0L234.6 40.1L300 -41.0L261.9 21.0L112.7 147.3L256.5 30.0L209.6 66.5L290.7 -31.6L192.6 87.2L206.1 74.9L254.2 11.3L263.9 18.0L193.3 63.1L172 90.1L191 58.1L216.2 33.3L120.4 132.1L184.5 78.3L242.2 17.7L212.5 53.1L98.8 155.2L259.4 -9.7L145.5 122.0L264.8 -17.4L237.2 40.9L108.1 131.1L266.9 -10.0L100.6 136.7L205.9 63.3L289.5 -3.1L118.9 130.1L149.8 120.0L132.5 120.4L211 63.6L177.4 98.9L214.9 35.4L264.7 22.3L127.1 122.1L82.7 152.7L77.4 163.0L283.8 -1.1L289.9 -10.0L153.2 116.0L193.4 67.2L188.6 77.1L227.4 56.5L208.2 70.8L135.9 131.3L143.2 116.7L223.3 37.2L170.9 95.1L264.7 -16.6L261.8 23.3L215.1 26.2L183.1 70.4L288.1 -15.1L203.1 47.0L296.9 -17.3L290.3 -28.8L108.1 143.7L245.6 9.0L93.7 157.5L162.7 87.5L277.3 -17.4L101.4 137.4L204.6 66.2L198.1 81.7L172.9 82.2L174.7 84.6L228.6 46.2L114.3 146.9L235.7 49.3L148.6 115.4L140.2 107.7L214.7 51.4L106.6 143.2L296.4 -31.2L299.5 -15.0L123.8 112.3L179.1 90.5L169.4 87.1L184.3 85.4L159.7 78.2L253.5 2.6L218.6 41.4L50.8 186.8L263 18.7L126.9 137.8L267.9 14.8L221.5 56.9L243.4 10.2L224.9 50.5L284.4 -29.0L160.1 107.7L163.7 108.0L225.6 30.6L259.3 27.9L281.4 -3.3L245.8 37.7L136.1 108.5L156.2 116.2L231.3 45.4L156.2 108.2L285.1 -11.5L121.8 136.3L212.5 35.9L252.6 26.1L222.1 58.5L230 55.1L289.5 -31.5L175.6 94.4L55.5 181.9L139.5 129.1L224.4 39.7L242 43.6L223.7 52.8L219.4 57.3L253.1 -5.4L251.9 16.2L89.5 164.6L102.7 139.0L266.8 5.0L154.8 113.7L243.5 27.7L236.5 39.8L294.2 -20.7L114.9 137.5L105.7 151.9L137.7 122.5L138 129.2L215 60.3L245.1 13.9L141.2 92.2L146 99.5L122.3 120.1L150.9 89.2L123.1 140.0L174.3 81.8L92.4 155.5L217.8 55.2L148.6 114.0L210.9 64.7L174 89.0L237.3 3.5L100.1 142.1L258.6 25.9L264.9 10.8L233.4 51.2L91 142.3L210.9 70.7L84.6 160.5L245.1 34.9L265.8 21.4L79.6 168.6L186.2 66.6L266 -13.3L290.6 -25.7L218.8 50.4L142 93.2L155.6 115.2L116.3 146.3L194.4 51.3L78.4 161.9L270.4 15.1L165.9 86.1L159.4 88.9L240.1 44.8L88.3 134.8L213.5 44.2L255.8 17.7L297.6 -10.5L286.3 -5.1L184.4 84.4L192.1 71.0L109.7 143.7L272.4 -19.7L120.8 135.1L152.2 80.2L125.8 114.4L126.1 137.4L123.3 139.5L211.6 66.8L221 59.8L199.9 69.0L248 34.7L118.3 138.6L196.3 65.0L234.6 37.7L97.8 152.8L296.2 -38.9L74.2 161.8L258.4 22.0L190.6 72.8L282.8 -24.0L187.4 89.9L207.3 68.8L135 128.9L214.3 64.0L182 81.4L283.9 -24.6L220 39.8L134.9 129.2L233.3 17.3L205.6 64.0L175.8 83.2L197.7 67.1L155.9 116.6L82.2 160.5L245.6 32.8L216.6 45.6L199.6 74.5L277.6 -3.0L135 128.1L239.9 44.9L177.2 89.5L279.7 -8.9L217.4 66.8L122 129.1L224.5 49.3L215.4 23.7L202.3 63.2L131.7 105.0L265.7 1.4L177.9 85.0L200.5 74.3L212.2 37.6L127.9 120.4L192.4 87.0L262 -8.2L284.7 -0.5L133.9 133.4L202.8 61.9L260.5 11.7L95.5 151.1L184.6 80.1L226.8 21.8L266.3 14.0L252.5 22.6L220.5 43.0L258.4 27.6L110.6 144.4L186 54.2L248.3 19.0L151.7 106.3L105.1 145.9L103.7 154.7L113.7 138.8L181.2 65.9L212 57.7L109 150.3L277.1 9.9L197.4 83.3L183.7 94.9L81.8 153.4L269.7 -12.0L280.1 -11.5L116.2 140.3L149.2 111.7L227.9 24.5L85.4 151.2L220.5 61.6L262.4 20.8L173.7 76.0L145 113.1L126.8 129.7L249.5 36.3L239.5 38.7L94.7 160.7L247.8 38.1L108.7 125.7L138 129.4L179.2 98.8L184.1 74.5L155.2 117.8L152.6 101.2L162.4 73.7L249.6 13.8L160.2 110.3L161.1 109.3L248.9 6.7L67.5 160.9L104.4 132.6L264.9 20.3L294.8 -27.1L105.9 150.2L85.8 146.6L157.1 116.1L103 156.0L292.4 -5.1L298 -15.7L125.1 114.4L203.7 65.5L216.8 33.8L183.2 90.1L122.8 127.7L184.5 89.6L175.1 100.9L241.1 43.7L292 -10.4L136.5 128.2L169.3 87.1L184.8 90.7L110.7 149.0L184 79.0L176.7 79.5L212.2 67.8L294.6 -15.3L164 90.0L214.5 62.8L280.4 6.7L112.3 148.3L197 65.1L154.6 113.6L192.5 59.9L237.9 36.0L287.1 -2.6L217 47.2L147.1 103.5L261.5 -10.8L268.9 12.2L278.9 6.6L265 -17.3L254 -2.5L127.7 131.2L180.3 68.3L151.4 118.5L286.1 0.7L115.3 147.2L221.1 53.0L159.6 114.0L214.7 65.6L155.4 84.5L147 100.1L190.6 87.3L202.6 59.8L249.2 8.4L204.8 70.6L129.7 131.1L137.2 105.8L170.4 62.4L297.2 -17.2L210.7 45.2L119.3 123.6L142.7 111.9L190.3 78.9L146.8 90.6L104 146.5L267.2 1.8L132.5 126.2L161.1 101.5L195 73.3L285.7 -0.7L216.3 24.7L218.5 38.6L272.8 -19.3L130 136.3L161.5 101.2L180.4 92.0L215.9 62.6L104.8 138.9L257.5 -1.5L286.3 -37.1L295.2 -17.0L215 58.8L114.6 147.1L178.5 77.7L214.6 60.6L151.1 110.0L217.7 61.0L174 89.4L258.4 18.1L193.2 67.6L253.6 27.0L299.2 -22.0L134.9 114.0L173.1 90.1L247.7 38.0L221.1 54.6L255.4 30.6L153.1 118.6L253.3 33.0L172.5 77.3L121.4 141.9L211.1 63.7L144.7 114.6L167.8 94.2L159.1 88.9L237.3 43.3L140.6 105.4L256.7 11.7L159.6 89.0L280.4 -0.3L220.5 55.6L203.4 69.7L140.9 105.2L189 72.5L284.8 -42.4L188.2 84.6L144.2 108.6L217.6 32.1L115.7 144.0L299.3 -12.1L238.6 23.2L89.1 146.7L267.1 -8.5L131.5 126.2L185.1 72.9L245.6 33.8L214.9 68.9L207 71.8L161.9 99.8L296.1 -26.0L235.4 47.2L246.9 39.2L203.1 61.4L195.3 83.3L221.6 60.0L227.3 43.1L115 139.9L233.2 29.6L133.9 129.5L255.5 -1.1L134.5 108.3L270.2 -19.1L110 150.4L89.6 149.2L179.8 71.4L233.6 40.8L220.3 35.6L215.4 52.8L265 6.4L249.2 32.6L143.5 114.2L285.5 0.6L206.5 46.1L286.9 -16.8L263.8 13.4L139.9 110.7L178.9 70.4L127.8 131.7L191.7 45.5L269.9 16.5L258 0.3L262 17.4L212.6 43.4L117.4 141.3L237.3 47.8L164.6 107.8L182 68.2L277.2 -6.5L278.8 -19.1L267.3 1.4L192.1 85.1L169.7 105.3L285.3 -40.4L180.7 87.2L122.5 142.0L234.6 29.7L166.4 94.8L108.6 139.5L102.6 139.7L268.1 0.9L122.6 128.2L208.6 55.0L194.6 85.5L91.3 148.4L283.1 -1.5L205.7 74.3L152.7 110.0L232.1 44.3L194.8 51.4L224 19.5L161 110.2L162.3 100.4L198.3 72.0L164.3 105.3L281.4 -23.2L175.3 99.2L145.5 125.0L239.6 43.8L264.9 11.7L194.6 72.9L223 47.1L264.9 15.4L258.5 26.6L111.2 149.0L266.1 19.0L297.9 -11.3L257.5 27.8L157.7 83.6L213.1 48.0L261 19.2L199.7 55.2L222.1 62.8L65.3 170.5L276.7 -14.4L283.6 -34.8L225.3 57.5L130.5 131.6L257.9 1.4L190 76.8L273.4 -11.4L217.4 66.1L137.5 105.2L223.7 18.4L85.2 161.1L217.1 45.2L259.1 14.2L176.9 79.6L255.6 22.7L266.7 9.4L241.2 37.7L279.5 -4.6L197.9 78.5L297.8 -19.9L244.4 15.5L135.3 106.9L167.8 102.1L208.2 72.3L129.7 112.8L266.2 -2.7L198.9 57.3L287 -14.2L248.7 37.5L244.4 21.7L248.7 -3.4L283.7 -21.2L212.2 57.3L208.9 73.5L165.2 89.1L142 124.2L192.2 87.5L209.9 68.4L166.6 96.4L250.1 31.8L95.1 139.5L211.2 49.9L236.3 48.4L191.5 81.4L225.9 49.2L281.9 -25.7L91.9 150.6L125.3 130.3L240.9 43.2L162.2 67.6L158 92.9L242.8 41.2L223.3 56.6L215.4 61.6L163 98.9L108.1 141.7L180.3 70.1L152.4 117.3L221.6 48.8L290.1 -4.0L218.8 52.8L151 98.8L193.6 50.0L258.3 20.2L89.2 147.5L166.5 103.0L159.2 77.2L135.2 122.1L131.5 132.7L91.7 153.7L216.4 48.6L209.8 69.2L188.7 85.6L227.8 46.5L193.8 84.5L196.8 78.2L201.5 57.6L269.3 3.6L123.9 127.4L189.5 57.1L151.7 109.6L178.7 96.7L160.4 100.5L190 60.3L256 11.8L182.2 94.7L50.5 185.8L142.4 114.2L126.8 135.1L238.5 12.3L133.3 126.9L198.7 79.7L280.4 3.9L231.6 37.5L298.9 -34.0L89.5 153.5L162.7 111.2L192.5 58.5L163.2 100.6L283.9 -1.2L162.7 112.7L292.3 -15.6L132.3 99.3L238.3 32.5L253.6 4.9L82.6 152.2L158.6 105.6L281.6 -4.4L134.2 130.0L251.9 6.4L196.8 62.8L173.2 92.5L239.6 43.5L210.3 61.2L258.4 -7.3L96.8 142.3L269.1 4.7L162.3 109.8L228.7 35.3L245.9 27.4L136.6 115.4L153.5 116.6L218.9 46.3L226.7 57.7L287.3 -4.8L162.7 98.1L94.7 143.2L156.3 115.7L152.4 74.6L103 133.8L293 -8.6L281 -21.4L173.8 103.4L134.1 121.5L213.1 41.3L197.8 64.1L291.2 -6.1L176.2 90.7L228.8 15.8L271.3 -22.8L191.1 80.7L211.4 66.5L221.5 61.3L208 65.5L175.6 76.9L210.3 62.7L133.9 108.1L144.7 88.3L298.7 -26.6L113.3 147.1L95.5 150.7L143.9 88.3L273.1 3.9L128.7 114.1L116.4 143.0L179.8 80.8L263.7 21.7L197.5 76.8L277.9 -7.3L136.1 106.5L178.8 98.8L270.1 -11.9L232.2 48.4L256.2 25.7L254.3 -10.3L233.8 16.0L125.5 139.1L241.9 27.2L201.4 76.7L163.1 109.6L188.8 86.4L127.5 138.3L218.1 65.2L80.6 156.9L141.7 119.8L176.8 96.5L123.4 137.3L205.6 73.0L243.2 34.1L247.2 39.0L212.7 70.5L84.9 143.8L138.8 101.5L294.3 -18.0L131.5 102.8L262.5 5.8L237.8 38.4L254.4 17.8L279.8 3.8L109.1 139.8L101.7 141.4L283.7 -32.7L192.9 86.7L294.8 -29.8L273 4.4L209.5 65.6L216.1 58.0L211.6 58.0L127.5 138.0L152.2 118.4L252.9 12.4L238.7 45.2L117.3 138.2L95.4 148.0L268.3 17.2L115 146.7L83.4 159.8L175.4 90.5L185.5 73.2L217.6 62.6L285.4 -26.9L168.9 92.3L116.4 137.8L136.8 97.6L292.7 -12.8L215.9 53.3L142.4 88.8L174 103.4L216.6 29.8L182.3 92.2L144.5 121.8L187.6 81.5L184.4 82.0L228.8 34.7L258.3 28.8L184 92.5L284.5 -2.0L171.4 80.9L119.8 112.3L122.6 124.6L209.5 53.6L91.5 150.5L135 119.1L126.9 105.7L258.1 21.6L80.2 144.5L130.9 125.8L114 136.5L209.1 68.6L162.7 96.4L95.2 151.1L158.1 99.0L144.1 101.0L122 127.8L129.5 129.5L135.5 122.3L201.6 79.9L219.9 47.0L226.2 30.5L115.7 142.1L292.8 -45.5L83.9 153.6L227.8 40.2L77.1 157.5L116.2 144.1L258.7 18.3L297.8 -11.4L233.4 44.6L98.6 156.1L170.4 102.9L204.7 50.5L268.1 -3.9L140.9 115.9L256.3 27.0L280.4 -25.9L154.5 86.5L148.1 86.2L221.7 52.2L87.1 157.7L212.2 31.7L264.6 20.8L201 73.4L113.3 148.3L159.8 107.3L190.5 74.1L237.1 29.1L164.3 98.5L154.8 95.7L121.3 130.3L197.6 49.7L283.8 -5.4L291 -14.2L241.6 40.3L167.4 98.3L195.1 85.1L141 127.1L209.1 51.6L126.4 139.1L209.7 73.1L255.3 -2.9L154.5 112.0L273.6 12.7L246.3 1.6L293.3 -6.9L270.8 7.9L133.8 100.8L291.9 -16.0L157.7 96.9L250.9 8.1L235 40.4L190.4 79.2L126.7 115.7L181.3 96.7L111.1 148.0L114.8 122.1L253.9 4.3L188.3 86.0L174.7 74.5L123.5 133.0L198.2 55.9L163.3 102.9L270.6 -19.0L155.1 117.0L195.8 64.1L165.9 92.8L118.2 143.8L236.8 14.3L292.6 -21.2L269.4 14.4L88.7 164.3L246.2 27.8L201.1 66.2L294.2 -29.2L204.8 65.1L268.1 19.2L135.6 126.8L151.8 114.2L144.5 93.0L294.7 -35.3L214.9 41.4L145.1 115.7L279.7 -7.7L260.1 15.4L230.2 37.7L240.8 17.2L236.6 30.8L224 31.2L262.7 -3.8L179 71.3L156.3 84.6L214.1 45.0L161.7 108.3L182.5 93.1L120.6 127.9L169.6 96.1L240 33.2L280.7 -17.6L188.9 83.9L182.3 81.9L248.4 37.4L182.8 60.4L216.8 35.6L260.8 -8.4L182.5 58.1L261.1 21.7L239.9 43.6L126.2 115.5L149 94.5L192.5 53.3L252.2 21.1L222.6 37.8L179.3 98.5L257.4 1.0L163.7 74.6L287.2 0.1L119.8 119.2L115 129.1L118.3 145.0L214.5 43.2L152 112.0L145.9 124.7L172.2 103.6L66.9 177.7L149.8 113.6L118.3 134.7L224.1 17.8L169.9 83.2L150.7 115.5L190.1 87.7L111.1 142.6L255.2 30.5L157 85.1L284 -28.4L281.7 -11.4L151 110.4L130.5 130.6L237.5 15.4L155.4 101.9L138.7 127.7L251.7 31.5L171.2 98.4L279.5 -3.5L92.8 152.8L288.7 -31.9L133.4 125.9L247.6 26.0L239.8 13.6L194.8 85.4L254.7 3.8L238.1 19.8L195.9 84.9L201 65.2L160.4 109.4L144.9 112.2L171 102.5L77.6 170.1L182.9 85.0L168.5 74.6L122.3 128.7L298 -13.2L189.4 68.1L136.6 125.4L243.4 42.3L261.5 -7.5L239.2 42.3L213.1 29.5L200.3 77.3L298.9 -46.0L202.1 71.7L288.1 -5.6L155.2 100.9L174.4 76.6L256 31.0L262 18.3L113 143.3L87.8 137.4L288 -3.6L227.7 40.3L228.2 22.6L146.5 116.8L75.4 162.6L89.5 161.1L271.8 13.0L88.6 163.9L99.5 151.9L151.9 109.0L130.3 121.7L142.1 121.5L246.9 35.3L216.7 61.8L148.8 87.4L154 115.3L137.3 129.1L250.6 3.9L246.6 20.3L95.2 154.1L129.7 130.2L295.7 -33.8L88 145.4L270.8 -32.1L218.1 44.9L213.9 52.7L297.9 -53.3L242.5 40.9L233.5 51.6L53.8 185.0L51 186.6L144.7 93.4L177.1 97.9L118.6 116.8L250.6 25.1L270.2 0.6L153.9 114.6L150 114.1L170.2 78.2L280.6 -24.8L196.9 72.8L249.4 33.0L166.8 94.4L259.1 5.4L199.4 65.4L145.9 113.0L195.5 52.9L172.3 103.6L230 47.7L221.5 51.9L204.4 46.5L286.8 1.4L284 -12.7L229.2 55.4L148.6 120.2L230 26.9L107 132.6L151.4 116.2L251.4 9.8L151.5 115.2L177.6 88.4L173.1 102.9L149.8 121.0L112.3 124.7L173 92.1L160.7 102.4L285.9 0.6L245.2 41.0L250.1 -8.9L68.1 170.0L114.5 124.4L176.5 100.3L129.7 136.7L152.1 93.3L73.2 160.8L258.5 17.7L143.7 117.9L207.5 67.2L226.6 48.1L135.2 103.4L184.3 71.7L226.4 39.8L141.1 124.9L128.8 131.8L100.1 145.6L165.9 104.1L131.3 118.2L287.8 -8.7L224 53.1L132.9 132.6L275.2 -15.6L243 32.6L209.5 56.7L194.2 64.6L69 164.7L104.9 154.1L238.7 47.0L92.6 141.8L175.3 84.3L242.7 34.7L175.2 76.4L113.9 126.2L168.8 80.0L263.2 -2.1L252.2 33.0L260.8 25.8L223.9 60.2L180.5 98.1L185.1 63.9L129 134.6L288.1 -41.9L262.4 23.7L128.7 137.1L222.5 29.3L107.1 149.2L226 18.8L296.3 -20.6L162.9 82.5L180.8 94.3L190.1 88.1L265.8 2.0L201.1 80.5L243.8 15.5L129.3 136.4L226.8 49.5L117.7 118.5L174.2 101.8L159.6 86.7L176.7 87.0L287.7 -31.9L202.8 77.7L147 121.9L101.1 147.7L264.6 -4.3L183.7 75.3L140.1 109.2L265.4 21.9L258.6 -19.4L141.4 97.3L243.9 28.3L266.3 19.3L103 145.5L194.1 49.8L173 103.0L272.4 13.9L199.9 49.3L115.8 145.7L243 40.2L71.6 169.4L208.3 54.7L157.2 114.4L110 142.3L188.7 79.4L282.8 0.3L82.5 152.7L168 79.6L100.6 148.8L297.8 -18.5L144.5 124.5L70.1 171.6L208.9 46.4L174.7 75.6L285.8 -20.6L279.3 -13.2L255.3 26.3L201.7 79.8L290.5 -16.6L287.5 -17.5L211.5 55.4L253.4 23.0L125.7 130.1L135.8 120.4L164.9 88.3L136.8 100.1L107.7 131.2L228 23.6L205.2 58.2L223.1 60.6L294.9 -14.3L290.3 -22.9L285 -13.0L178.2 96.5L133.2 114.4L167.5 87.7L197.7 56.4L202.6 66.2L276 5.7L236.8 29.8L125.7 112.8L255 14.3L161.6 111.8L126.7 113.7L210.4 72.2L180.7 95.9L245.3 35.7L279.9 6.6L287.7 -35.4L140.3 126.4L299.5 -24.3L107.8 147.9L233.9 51.1L293.4 -23.1L227.8 41.6L140.6 121.4L219.4 59.8L244.1 1.5L187.8 55.6L95.6 140.0L123.6 120.7L211.1 66.8L227.1 18.5L214.8 58.1L173.8 102.1L89.4 140.0L186.4 91.9L272 -18.3L171.5 60.6L187.9 74.4L224.8 22.6L153.1 110.0L201.1 79.4L191.9 80.2L285.5 -1.9L245.1 31.0L146.3 104.1L274.3 -1.7L273.9 12.0L116 138.0L143 118.6L122.9 122.8L200.1 80.4L154.1 102.0L201.2 73.2L264.9 -12.2L274.3 1.2L65.6 169.7L189.6 54.0L169.6 106.8L265.9 -0.7L172.2 83.1L98 149.0L172.6 62.7L53.9 180.3L237.9 46.9L222.9 46.4L221.9 46.8L268.1 15.3L79.9 148.2L206 67.1L250.9 12.7L148.1 86.7L203.3 55.7L150 93.4L138.4 127.7L251 16.0L144.9 124.2L152.9 101.0L292.8 -29.7L197.2 68.5L282 -7.5L184.4 81.5L135.5 113.5L238.9 25.6L263 16.1L188.6 77.5L199 80.1L287.4 -27.6L152 85.5L159.5 74.6L197.4 82.8L286.9 -8.7L271.7 3.3L178.6 96.2L244.2 39.1L245.2 16.8L257.1 19.2L223.2 57.5L140.1 120.2L73.3 158.5L195 84.3L278.8 -2.4L278 -5.0L144.1 122.9L221.7 50.5L238.2 37.3L264.3 -1.8L290 -6.3L129.9 136.2L299.3 -14.8L211.6 70.6L297.6 -24.8L163.4 84.8L269.6 14.4L195.5 57.6L240.8 12.1L220.4 63.6L245.9 12.8L200.6 67.7L213.3 68.7L93.4 159.7L129.3 122.2L166 86.4L173 92.9L265.8 20.1L100.1 145.9L126.8 130.3L199.1 52.1L185 93.5L221.4 56.3L118.2 144.3L273.6 12.8L291 -7.7L258.1 6.0L93.1 149.6L266.3 -1.0L184.3 71.4L109.8 150.8L164.3 72.9L289.5 -35.6L287.9 -7.2L106.8 152.2L233.1 45.6L182.8 95.7L240.5 45.5L254.2 27.3L297.5 -55.0L163.4 109.7L223.2 36.3L125.4 138.9L205.5 76.0L235.1 47.3L158.8 70.9L111.1 149.2L81.6 151.0L198.5 83.1L136.7 121.1L278.4 5.5L113.2 133.6L197.7 64.4L294.3 -13.1L196.2 77.7L231.2 28.0L195.4 73.7L131.2 111.7L152.3 91.9L245.1 7.9L209.4 43.8L186.5 79.1L246 40.5L249.7 36.9L206.9 69.9L125.5 123.1L117.5 145.2L266.2 -3.8L246.2 27.7L107.8 148.2L78.3 167.0L113.1 136.8L96.7 154.9L130.8 103.3L292.8 -12.8L244.7 30.0L236 40.4L91.6 162.3L139.8 120.7L227.8 41.4L185.1 82.0L296.9 -24.9L181.9 58.4L272.9 11.8L249.6 15.4L228.9 42.4L279 4.7L198.4 77.2L84 159.8L149.7 109.5L208.1 48.0L148.2 104.6L116.7 134.3L220.5 60.9L262.6 -0.4L147 124.0L104.4 151.2L262.6 10.3L193.2 85.9L267.4 11.7L288.3 -17.8L293.1 -6.9L258.3 10.5L247.4 34.7L236.7 25.7L276.5 -15.5L218.3 43.4L105.5 144.7L98.8 141.2L288.6 -4.4L264.3 18.9L252 34.4L110.8 121.6L269.2 1.6L169.9 105.5L167 95.5L279.6 -8.6L94.7 150.7L236.7 4.3L246.1 31.1L151.9 118.6L212.6 62.8L120.1 143.0L150.7 112.1L268.7 18.7L235.8 47.2L274.2 11.6L218.1 59.2L291.6 -25.1L242.5 39.3L118.1 145.5L252.2 2.0L278 -16.9L158.1 112.6L236.1 36.9L212.1 43.9L174 72.6L257.1 14.0L275.8 -6.6L225.5 35.4L137.2 114.6L137.8 127.7L239.8 29.6L139.2 110.0L94.9 141.1L279.6 -15.6L209.8 52.5L107 152.6L251.8 33.8L77 158.6L142.7 103.2L259.2 16.7L221.5 53.1L229.3 40.0L216.5 66.4L290.9 -15.5L269.1 17.8L120.1 133.7L279.8 5.2L114 122.5L286.6 -16.0L137.9 119.2L252.1 31.9L127.5 125.4L238.2 45.0L222.9 21.4L265 1.1L173.8 72.0L139.5 110.0L293.5 -36.0L296.8 -25.1L297.6 -13.8L204.1 50.5L102.8 139.1L225.3 57.8L122.8 121.5L160.2 109.5L264.5 22.2L269.7 -0.5L174.6 78.1L155.4 107.2L120.4 139.2L175.2 100.9L154.2 104.4L56.6 180.9L222.5 37.6L169 97.4L240.5 43.5L235.4 41.0L277.8 4.5L216.3 57.1L265.4 18.8L148.9 116.6L175.5 64.8L285.6 0.5L85.8 152.2L123.5 136.5L110.2 122.0L233.1 46.2L237 28.1L136.6 105.8L271 16.7L227.4 54.3L219.9 44.8L252.6 -2.9L169.2 100.8L201.8 55.8L247 28.2L187.2 63.9L212.7 67.7L294 -35.1L177.6 98.8L278.1 -14.7L273 -10.5L295.9 -17.7L285.6 -10.5L187.1 73.3L85.2 148.1L172.8 103.6L60.9 182.3L131.4 120.8L100.9 122.2L123.7 140.7L265.3 -13.1L119.6 138.8L294.9 -29.0L292.4 -9.6L262.7 -15.7L165.9 109.2L130.1 113.0L191.7 63.6L108.9 141.3L100.7 156.9L298 -15.8L154.6 108.2L162.3 105.7L113.9 126.2L172.3 89.8L243.1 33.9L86.3 151.2L200.8 72.5L133.5 122.9L236.8 42.1L197.8 81.9L207.9 46.4L108.6 143.2L191.6 74.9L136.7 100.5L141.5 123.2L238.1 46.8L249.6 7.8L191.3 67.8L198.6 49.5L162.3 108.6L237.7 45.3L227 43.7L271.1 11.0L171.8 104.2L102.7 154.8L69 158.6L54.5 188.6L56.8 187.4L53.2 186.2L58.5 185.5L133 144.5L133 159.0L125.5 149.5L115.5 152.0L115 159.0L103 163.0L94.5 174.0L90 177.0L94 180.0L89 179.0L75 182.0L69.5 189.0L66 192.5L62 162.5L75 146.0L70.7 217.5L215 19.0L280.5 20.5L284 24.0L287.5 27.5L272.5 24.0L259.5 35.0L255 42.0L250 44.0L254.5 49.0L232.5 59.0L230 62.5L242.5 71.0L282.5 71.0L165 61.0L177.5 51.0L132.8 143.8L139.8 134.3L151.4 127.5L159 122.3L170.7 107.6L243.3 71.0L230.7 63.0L213.4 73.5L218.8 77.0L217.4 80.0L200.4 89.9L206.4 91.9L201.2 100.8L208.4 100.8L213.4 100.8L189.9 93.5L182.9 96.9L132.9 91.4"/></g>
<g class="r" clip-path="url(#c2)"><path class="ur" d="M322.0 196.8L324.0 194.1L326.0 191.2L328.0 188.2L330.0 185.1L332.0 182.1L334.0 179.1L336.0 176.0L338.0 173.0L340.0 169.9L342.0 166.9L344.0 163.9L346.0 160.9L348.0 157.9L350.0 154.9L352.0 151.6L354.0 148.2L356.0 144.7L358.0 141.0L360.0 137.3L362.0 133.8L364.0 130.3L366.0 127.1L368.0 123.9L370.0 120.8L372.0 117.7L374.0 114.4L376.0 110.9L378.0 107.5L380.0 103.9L382.0 100.4L384.0 96.9L386.0 93.4L388.0 89.9L390.0 86.5L392.0 83.1L394.0 79.8L396.0 76.4L398.0 73.1L400.0 69.8L402.0 66.5L404.0 63.3L406.0 60.2L408.0 57.1L410.0 53.9L412.0 50.5L414.0 46.7L416.0 42.7L418.0 38.5L420.0 34.8L422.0 31.4L424.0 28.3L426.0 25.2L428.0 22.2L430.0 19.1L432.0 15.8L434.0 12.7L436.0 9.5L438.0 8.1L440.0 7.7L442.0 7.7L444.0 7.7L446.0 7.7L448.0 7.7L450.0 7.7L452.0 7.7L454.0 7.7L456.0 7.7L458.0 7.7L460.0 7.7L462.0 7.7L464.0 7.7L466.0 7.7L468.0 7.7L470.0 7.7L472.0 7.7L474.0 7.7L476.0 7.7L478.0 7.7L480.0 7.7L482.0 7.7L484.0 7.7L486.0 7.7L488.0 7.7L490.0 7.7L492.0 7.7L494.0 7.7L496.0 7.7L498.0 7.7L500.0 7.7L502.0 7.7L504.0 7.7L506.0 7.7L508.0 7.7L510.0 7.7L512.0 7.7L514.0 7.7L516.0 7.7L518.0 7.7L520.0 7.7L522.0 7.7L524.0 7.7L526.0 7.7L528.0 7.7L530.0 7.7L532.0 7.7L534.0 7.7L536.0 7.7L538.0 7.7L538.0 9.8L536.0 12.8L534.0 15.8L532.0 18.9L530.0 21.9L528.0 25.1L526.0 28.2L524.0 31.0L522.0 33.7L520.0 36.1L518.0 38.4L516.0 40.8L514.0 43.1L512.0 45.3L510.0 47.3L508.0 49.1L506.0 50.7L504.0 52.4L502.0 54.1L500.0 55.7L498.0 57.4L496.0 59.1L494.0 60.7L492.0 62.4L490.0 64.1L488.0 65.8L486.0 67.6L484.0 69.4L482.0 71.3L480.0 73.1L478.0 75.0L476.0 76.8L474.0 78.6L472.0 80.2L470.0 81.8L468.0 83.4L466.0 85.0L464.0 86.6L462.0 88.1L460.0 89.7L458.0 91.3L456.0 92.9L454.0 94.5L452.0 96.3L450.0 98.3L448.0 100.3L446.0 102.4L444.0 104.5L442.0 106.6L440.0 108.7L438.0 110.8L436.0 112.6L434.0 114.2L432.0 115.8L430.0 117.2L428.0 118.7L426.0 120.2L424.0 121.7L422.0 123.2L420.0 124.7L418.0 126.2L416.0 127.7L414.0 129.2L412.0 130.8L410.0 132.3L408.0 133.9L406.0 135.4L404.0 137.0L402.0 138.5L400.0 140.1L398.0 141.6L396.0 143.3L394.0 145.1L392.0 146.9L390.0 148.8L388.0 150.6L386.0 152.5L384.0 154.3L382.0 156.2L380.0 157.8L378.0 159.4L376.0 161.0L374.0 162.4L372.0 163.9L370.0 165.4L368.0 166.9L366.0 168.4L364.0 169.9L362.0 171.2L360.0 172.5L358.0 173.7L356.0 174.9L354.0 176.0L352.0 177.2L350.0 178.3L348.0 179.4L346.0 180.7L344.0 182.2L342.0 183.8L340.0 185.5L338.0 187.2L336.0 188.9L334.0 190.6L332.0 192.3L330.0 194.0L328.0 195.7L326.0 197.3L324.0 199.0L322.0 200.8Z"/><path d="M405.4 107.3L459.2 24.9L499.1 15.5L342.5 168.7L438.1 75.6L438.7 52.3L364.8 151.8L446.7 17.9L459.8 89.6L490.3 31.1L457.9 54.8L389.5 139.4L457.8 78.6L506.5 42.6L454.7 70.2L375 141.3L374.4 116.8L424.8 63.2L446.7 19.7L495.8 11.3L446.8 74.2L426.1 38.9L404.4 130.9L435.4 86.5L407.3 134.1L514.7 35.1L431.3 37.3L529.3 22.8L325 194.7L415.3 110.3L343.7 169.5L478.1 60.5L488.2 28.3L348.6 176.5L438.4 109.4L484.3 15.6L421.8 76.2L348.9 178.8L429.6 27.0L355.3 146.1L429.7 93.2L438.6 68.9L439.6 86.5L496.6 33.9L421.7 45.8L369.9 143.0L448.8 63.5L381.4 142.2L465.3 50.0L439.7 58.5L395.5 107.3L444.5 63.7L419.2 86.3L432.3 16.4L525.9 27.0L413 86.9L324.5 193.7L462.4 45.9L384.3 146.3L476.5 22.8L344 164.6L493.4 58.3L452.7 78.6L414.6 90.4L431.9 69.5L369.9 161.1L470 66.9L405.4 118.7L396.8 142.0L368.2 139.2L476.4 64.4L532.5 11.7L471.1 20.0L467 63.3L320.7 198.7L349.7 158.2L393.8 97.4L429.5 63.9L468.9 12.0L458.9 87.5L495.9 43.5L460 46.6L437 37.0L432.5 22.1L439.7 54.8L420.5 98.9L407.7 111.7L453.8 66.5L479 27.2L407.5 78.9L453.7 43.3L500.6 20.3L494.3 13.4L345.1 177.3L489.6 29.6L424.2 107.6L447.2 76.9L459.5 28.5L408 75.4L449.2 32.2L460.6 80.3L378.4 134.8L507.4 14.1L428.1 24.4L417.2 75.9L389.8 148.5L402.4 133.8L514.3 26.6L406.6 88.7L481.5 44.8L455.3 37.7L471.5 28.3L454.5 61.9L474.5 58.9L321.4 199.9L349.7 156.1L405.3 118.7L454.7 73.8L485.9 16.8L464.2 29.2L460.8 11.3L449.2 39.9L440.2 90.9L434.5 100.5L416.7 102.7L437.5 33.1L380.1 157.3L449.5 30.1L313.4 203.8L395.3 142.5L414.5 84.0L368.4 132.0L407.6 102.7L441.1 32.6L468.6 55.5L466.8 69.7L419 37.2L436.9 42.9L409.2 55.8L429.9 41.1L429.5 34.5L450.8 81.6L410.7 75.3L413.4 52.6L467.2 26.2L397.5 139.7L440.4 78.5L415.7 97.3L429.9 42.7L386.2 97.7L512.2 19.5L463 16.4L368.6 124.9L358.7 155.3L439.5 106.6L336.8 186.2L464.3 80.3L341.5 178.4L318.5 202.8L505.8 8.1L405.8 113.1L429.7 96.3L517.3 27.1L339.6 170.5L393.2 83.6L499.8 45.4L421.6 40.5L431.9 93.1L460.6 43.4L443.8 50.8L428.6 91.6L365.4 128.1L508.7 20.6L443.4 65.3L402.8 83.6L439.8 99.3L446.1 28.9L448.3 58.9L405.8 106.8L438.8 38.7L457 51.6L453.2 27.5L480.8 36.6L460.2 14.1L430.5 87.0L478.7 29.5L520 35.3L438.6 56.4L491.8 49.7L444.4 69.1L336 188.2L439.9 108.4L415.9 46.2L508.7 37.6L385 117.7L501.9 32.8L464.8 14.6L457 18.8L469.6 81.2L466.5 37.2L478.8 71.1L436.5 75.2L525 27.0L390.3 134.9L387.8 116.5L383.1 107.6L422.3 63.7L422.4 31.3L355.3 175.0L484.7 39.1L375.7 112.9L512.5 12.9L333.8 188.8L424.6 45.0L375.9 160.9L484.8 57.1L339.4 176.7L484.1 43.9L371.3 152.3L375.8 119.9L466.6 52.4L476.5 69.6L518.5 7.7L513.3 30.4L402.3 66.5L494.9 19.7L428.7 54.4L459.2 62.9L319.3 202.8L404 64.4L421.6 52.7L465 37.5L371.4 155.3L425.2 115.8L367.2 137.3L455.6 78.5L403.6 113.8L408.2 117.3L414.7 78.8L325.9 195.2L422.2 82.3L451.1 90.5L326.7 194.7L429.3 84.8L436 111.3L477.9 53.9L467.8 21.3L538 9.7L445.3 89.1L406.7 95.6L508.6 29.5L395.1 133.5L447.4 100.4L389.7 91.9L334.4 183.5L421.9 122.5L433.7 14.0L432.7 113.1L445.6 21.5L381.6 129.3L481.7 55.3L399.6 121.2L384.2 153.3L510.6 28.5L450.9 51.5L411.8 81.0L382.8 137.0L327.3 196.1L411.1 112.3L516.5 23.8L373.8 161.9L474.2 35.0L445.3 8.0L452.2 70.7L435.7 40.2L473.2 46.3L363.3 131.8L474 52.5L518.6 30.9L356 160.2L431.8 49.5L349 172.0L396.6 95.2L460.3 54.9L458.9 81.4L435.6 22.8L487.9 40.6L348.7 157.4L428.4 23.1L410.7 67.1L524.1 17.6L498.9 38.6L459.3 48.1L404.1 127.1L456.9 34.1L480 12.1L405.2 94.8L509 30.6L375.2 143.1L447 94.2L500.7 23.3L389.3 124.5L415.6 44.6L438.2 96.4L380.1 104.7L385.4 137.0L420.8 121.0L325 197.8L454.5 23.2L382.7 112.5L392.7 100.6L464.9 54.9L433.7 19.5L440.2 95.8L517.9 37.7L492.2 18.9L498.8 17.9L329.7 189.0L423.4 102.5L398.8 123.4L364.4 148.9L432.9 106.8L433.9 79.4L454 31.4L365.6 148.1L532.5 13.1L430.8 46.2L484.5 61.3L383.9 111.1L343.8 181.6L491.2 46.0L424.6 46.2L443.3 75.4L448.1 43.0L503.1 16.7L458.3 90.4L406.4 125.1L420.1 114.7L477.1 37.9L425.4 94.3L474.5 19.6L483.9 34.8L449.2 87.5L461.1 37.7L398.7 90.3L488.4 55.4L415.5 87.2L432.7 66.8L327.3 189.5L359.9 161.4L398.4 128.9L468.1 49.5L433.4 15.7L368 163.0L324.6 194.9L488.2 65.3L481.5 8.0L400.9 95.4L384.2 102.6L361 167.5L322.1 196.9L404.4 97.2L367.4 157.4L349.7 178.4L466 45.9L418 39.3L435.2 59.0L429.2 57.8L436.9 90.5L371.6 164.1L518.2 14.7L448 13.4L506.3 14.4L431.4 73.6L434.6 83.2L409.8 73.0L389.8 87.1L357.7 173.8L394 144.9L486.8 45.5L382 155.0L436.5 72.5L477.6 10.4L483.7 39.3L475.7 55.6L430.5 18.5L325.9 192.3L439.8 48.8L472.1 73.5L529 9.3L447.5 38.0L511.1 35.6L378.5 120.8L440 19.9L410.9 101.8L402.2 108.9L411.8 122.3L449.5 25.1L330.4 187.3L386.3 151.8L371.3 134.6L365.4 168.6L507.1 27.6L401.5 105.7L528.8 19.5L452.9 11.6L351.8 177.3L432 51.0L429.5 91.1L411.1 57.1L407.6 87.0L492.9 60.0L382.5 149.9L411.2 123.3L486.5 63.2L407.3 59.1L421 107.6L398.5 100.3L319.3 202.3L422.4 122.0L365.2 167.2L435.3 11.8L447.7 26.8L395.8 81.9L399.1 118.9L445.7 101.9L505.7 50.1L404.5 68.2L445.1 61.0L420.2 54.9L448.8 34.9L432 16.5L433.5 103.8L460.5 66.1L427.5 105.4L405.7 123.3L469.8 57.9L322 199.7L411.8 128.3L536.9 11.0L376.7 152.0L378.7 131.3L444.9 54.7L369.5 150.0L353.8 175.3L463.8 21.2L391.2 111.5L453.9 16.6L429.8 55.5L371.1 123.4L503.9 32.1L498.3 49.8L512.4 40.5L451.3 34.4L427.2 84.9L432.2 36.8L522 15.8L418.3 117.3L369.9 128.2L401 110.8L422.5 119.7L395 125.9L492.8 26.2L417 105.2L353 164.7L351.3 176.9L399.9 70.0L417.5 95.6L463.1 59.3L368.2 124.5L365.6 162.6L320.8 200.6L494.4 8.1L432.5 76.1L417.3 82.4L447.7 23.9L477.8 74.0L464.1 76.3L409 81.6L466.8 58.5L496.1 23.2L448.7 74.7L466.1 29.7L419.9 124.4L386.6 108.1L381.2 140.6L479.9 73.0L356.4 168.0L378.4 150.4L538.7 7.8L498.3 43.0L350.2 170.1L408 99.5L518.1 35.7L507.7 33.9L332 191.9L480.7 20.4L413 100.6L406.4 59.7L397.1 75.1L413.5 104.2L398.9 85.5L422.2 116.2L361.6 144.3L387.5 142.1L475.8 71.7L456 90.4L374.2 148.9L464.2 84.5L375.9 112.6L441.3 101.9L360.1 159.2L443.8 32.0L384.2 97.0L438.5 12.3L461.5 87.8L408.3 69.8L396.6 114.3L531.7 10.6L459.1 40.0L442.9 10.5L446.4 58.2L468.6 26.4L320.3 202.2L454.4 8.3L396.8 75.7L429.9 115.0L391.7 117.9L429.3 95.2L468.7 52.4L418.5 111.8L438.8 47.6L427.3 89.2L428.7 26.4L489.3 13.2L422.2 85.1L418.3 64.7L526.9 26.4L501.4 49.1L493.6 34.1L460.3 13.3L430.1 32.8L380.9 105.5L413.1 106.7L392.3 88.0L420 101.5L503.1 51.5L478.9 43.0L320.3 201.2L373.3 121.3L358.8 143.5L465.1 26.0L381.1 135.3L424.4 75.1L470.4 55.1L324.5 197.9L492.3 52.2L421.7 91.7L428.7 47.0L513.2 11.4L487.2 21.1L451 97.1L446.4 33.6L452.9 59.0L374.5 151.3L457.5 44.6L397.9 135.9L336 176.6L447.8 10.4L400.1 102.9L483.5 66.9L399.9 139.6L381.5 152.2L442.8 78.0L486.9 43.1L394.4 104.2L434.6 93.8L394 95.3L453.1 19.2L357 169.0L410.7 63.5L486.1 11.2L501.1 9.4L529.3 13.9L516 13.2L435.3 45.6L475.1 7.9L473.3 10.7L453.1 61.6L403.4 78.6L339.2 172.5L494.5 29.9L398.8 114.9L480.6 24.7L318.5 201.5L397.3 83.9L387.4 140.5L332 183.1L437.5 61.1L428 59.5L424.4 78.8L421.9 56.5L418.7 55.9L442.9 29.8L426.1 40.9L411.6 84.8L406.9 75.7L476.9 24.5L466.1 34.1L445.8 41.3L511 11.5L430.2 75.8L447.1 71.3L433.8 109.1L409.5 119.7L491.4 34.0L441.7 22.8L509 47.8L447.2 49.3L452.4 94.3L412.8 49.2L460.6 29.9L387.4 94.8L506.4 50.4L456.2 15.8L414.7 127.0L485.3 14.0L361.9 171.0L383 114.6L458.1 44.8L432.6 64.5L411.6 117.3L417.5 121.7L454.5 60.5L459.9 60.1L387.8 150.3L404.9 130.5L411.4 54.4L337.8 176.7L484.2 69.2L426.8 103.2L448.3 45.4L369 156.0L481 30.7L420.9 86.6L457.4 29.6L403.3 119.6L400.1 125.3L467.8 23.0L354.8 158.5L436.9 48.1L413.4 112.4L322 197.6L371.6 119.2L365.2 163.7L333.4 180.4L507.1 49.6L534.5 14.3L363.4 156.5L423.4 96.0L485.7 20.5L465 78.3L426 33.2L464.8 40.3L502.4 26.1L527.9 25.2L403 90.5L437.8 103.1L445.3 49.2L482.4 62.3L488.3 60.9L414.7 81.6L369 134.4L371 120.7L377.3 116.4L358.8 147.3L387.3 111.5L402 115.4L391.7 141.8L424 60.0L461.8 71.0L469.2 67.3L446.4 98.3L377.6 149.7L386.3 121.1L471.8 79.6L382.9 131.7L485.8 57.3L506.6 36.2L461.9 40.8L445.6 80.2L472 63.8L400.6 78.3L448 53.6L380 112.1L515.6 17.8L428.5 82.1L427 118.1L345.3 180.1L394.1 143.1L405.8 66.6L426.2 49.0L363.4 167.1L351.8 153.1L409.4 80.4L444.1 44.3L492.5 61.8L350.1 161.0L345.1 165.3L419 44.0L450.3 70.2L465.9 84.8L379 155.1L441.8 80.6L421.5 67.2L401.4 75.8L411.4 90.9L467.8 12.1L369.1 165.8L395.8 89.7L397.6 101.8L364.5 134.0L438.7 56.7L463.6 42.8L455.3 38.4L443.8 14.6L438.6 65.9L422.1 101.2L498 56.3L367.1 136.4L359.9 171.7L412.4 104.5L482.6 29.5L378.5 148.1L391 118.8L409.8 114.7L445.4 26.2L501 25.9L520.6 26.9L441.6 94.9L361.9 134.3L421.2 78.2L395.4 122.9L404 135.7L433.4 61.1L422.4 71.0L412.8 129.8L463.8 21.5L355.7 146.3L419 73.5L392.4 83.0L490.6 62.8L483.5 9.7L369.8 165.5L383 103.1L390.3 129.2L510.8 42.1L488.9 37.2L434.4 95.9L406.4 134.7L363.3 137.6L456.1 92.7L450.9 77.6L522.7 18.8L473.1 40.1L435.6 32.3L371.5 145.3L413.4 67.3L399.2 71.4L431.7 82.4L387.7 146.2L472.3 35.7L419.8 52.8L416.9 90.0L427 24.8L363.3 170.2L456 77.6L396.8 121.1L402 81.5L399.2 140.5L475.1 38.4L404.8 68.5L433.7 112.8L512.5 44.3L488.8 31.1L433.5 89.3L500.4 33.7L439.4 94.6L485.3 50.9L431.4 87.8L434.4 62.4L459.6 34.6L424.8 82.5L336.9 178.6L430.6 78.3L512.2 8.1L377.9 108.2L346.1 174.1L463.5 86.8L524.9 11.1L420.8 95.5L519.4 19.8L395.1 100.7L382 101.0L459.7 77.6L375.3 146.4L494 30.0L387.9 135.2L479.1 24.1L364.7 139.2L333.4 190.3L339.6 185.1L338.2 186.4L425.4 113.0L425.6 59.2L463.1 10.5L498.7 31.6L374.7 123.9L426.2 79.1L503.7 47.2L442.1 106.4L523.7 27.9L357.5 147.4L413.3 124.5L409.2 132.2L479.1 30.8L390.4 104.9L433.4 15.1L508.2 16.2L439.5 64.8L445.6 86.3L394 79.9L318.7 200.7L500.4 51.2L389.6 107.6L367.1 146.4L373.1 132.3L415.5 57.5L397.4 92.2L476.8 18.0L404.9 134.3L472.9 74.7L331.2 185.0L488.3 49.2L499.7 27.6L404.7 77.5L363.2 155.6L366.4 144.2L456.5 81.7L469.4 68.3L425.7 26.1L413.4 116.2L494.2 51.0L516.6 10.0L440.9 69.2L443.9 101.9L477.7 49.8L496.3 46.6L394.3 129.2L384.1 98.7L478.3 58.6L424.3 120.6L318.6 199.6L485.4 8.2L499.3 55.2L397.5 110.5L371.2 140.9L450.1 58.2L375.8 137.9L386.8 149.1L532.1 17.5L376.5 156.9L514 18.8L449.1 94.0L416.3 66.4L506.9 22.4L429.2 51.1L386.1 126.2L324.7 196.6L392.1 92.0L507.4 9.9L391 93.5L353.8 149.7L371.5 157.9L474.8 25.1L415.4 114.1L410.2 125.9L440.2 22.7L402.5 122.0L468.6 74.1L409.1 57.7L385.2 134.3L376.8 126.2L527.6 24.1L436.2 112.4L407.4 94.9L456.4 22.8L366.7 131.1L469.9 17.9L343.8 164.4L410.6 88.2L426.4 28.9L405.4 99.2L508 44.3L402.8 68.2L399 140.0L325.3 193.0L425.8 51.6L403.4 85.6L419.1 46.4L389.4 98.1L480.5 59.3L474.3 76.7L437.7 12.1L497.2 16.7L463.5 67.8L507.4 46.7L451.5 19.5L329.7 190.3L383 154.0L443.5 87.7L439.3 12.0L461.7 59.2L468.8 31.9L512.8 42.9L367.3 153.8L415 99.4L339.8 181.9L326.5 193.2L449.4 72.4L377.9 158.5L367.2 155.5L490.3 8.5L435.3 104.1L456.3 33.0L402.3 129.0L347.5 164.6L475.9 51.6L449.8 51.7L431.2 106.8L471.8 30.9L499.5 55.3L498.3 9.8L356.9 163.8L445.7 85.4L415.5 122.7L418 120.0L445.8 90.3L496.2 58.7L416.9 106.4L525.9 9.0L463.2 62.7L528.5 17.4L445.8 52.7L473.1 17.9L514.7 41.8L417.7 61.2L456.8 61.4L483 22.1L496.7 29.1L473.9 13.7L428.1 116.4L501.4 14.6L495.6 36.5L421.2 90.1L416 43.1L459.7 52.0L468.5 15.4L508 40.3L359.3 169.3L408.5 105.6L489.9 21.2L457.4 67.2L382.9 121.4L424.2 114.7L490 59.0L490.7 13.5L431.7 60.8L435.8 107.7L398.4 104.0L414.2 73.4L407.7 63.8L478.2 66.1L496.6 39.9L442.8 40.5L396.6 125.1L416 127.6L440.5 37.2L504.4 52.0L486 55.0L485.5 67.8L339.2 184.1L458.9 70.2L422.7 49.2L463 24.5L492.8 37.5L411.7 70.0L386.3 93.6L387.8 91.1L441.6 58.5L504.4 34.6L449.3 42.8L360 138.4L414.7 46.2L433.1 56.2L451.6 85.0L354.8 148.4L379.1 128.9L441.4 44.0L447.9 10.1L502 43.4L361.1 164.3L356.4 157.3L426.2 65.7L414.1 52.2L510.9 36.7L394.4 131.8L494.1 10.5L357.7 142.0L450.5 21.5L482.7 14.5L448.1 65.4L400.3 72.7L482.6 47.7L440.9 83.9L318.7 203.3L344.8 169.4L389.9 101.6L502.8 27.7L351.4 175.4L471.3 36.9L367.4 128.9L444.5 102.6L348.1 168.9L521.9 22.3L477.4 41.6L394.1 88.8L341.5 172.4L392.4 146.4L491.3 61.5L434.4 31.5L474.8 49.5L432.9 97.8L415.2 72.5L371 164.3L413.6 57.1L432.5 42.3L338.5 181.1L373.7 126.6L456.9 91.6L409.6 96.9L433.4 73.0L443.5 100.5L353.6 169.6L422.9 38.7L387.8 131.5L425.9 107.4L478 56.8L424.6 55.2L444 96.2L345.9 176.6L504.3 23.7L392.8 112.5L399 131.0L469.7 41.3L477.8 75.0L403.1 102.3L416.5 49.7L405.5 112.0L494.2 45.4L450.6 97.2L456.3 10.4L385.8 129.7L361.5 140.4L453.6 94.0L463.9 68.8L482.2 44.5L457.1 26.3L412.4 101.4L372.8 129.3L417.3 125.9L522.5 32.7L470.9 64.2L457 36.7L461.4 19.7L436.6 53.1L538 9.7L477.3 18.6L478.6 64.7L353.8 161.1L437.9 27.3L435.9 85.1L456.5 84.7L476.1 76.7L473.1 14.5L389 105.6L393.5 107.6L509 23.9L471.8 43.0L376.9 156.7L420.3 60.3L426.9 42.6L436.4 34.6L496.6 51.6L415.4 92.9L423.5 70.6L442.8 65.8L390.1 143.9L423.4 105.7L476.3 75.5L469.1 21.8L428.2 114.7L425.2 31.3L380.4 131.2L455.6 64.8L424.3 29.2L501.7 53.8L492 23.2L478.4 13.7L334.5 182.0L419.5 81.8L379.4 108.7L513.8 29.8L487 22.1L434.3 49.9L436.4 26.6L362 161.7L432 115.3L388.9 124.1L475.9 61.8L433 36.5L342.5 183.1L463.3 30.9L345.3 162.6L329.4 187.4L482.1 70.6L469.4 35.0L443.1 37.6L387.1 99.7L440.7 16.8L407 85.3L430.8 68.3L453.7 40.2L372.7 138.6L402.6 72.8L476 43.2L466.9 84.1L425.7 120.4L515.9 40.8L399.2 81.6L512.1 24.1L385.1 112.3L388.7 129.6L372.6 162.8L389.8 111.7L539.2 6.9L418.7 70.9L446.8 44.8L505.9 18.9L354.8 150.8L466 17.7L419 124.8L478.7 51.1L423.1 37.3L444.1 72.0L437.6 78.3L453.2 87.6L352.7 155.1L441.7 73.7L426.3 74.4L489.3 42.1L492.2 41.3L442.1 34.5L444.2 41.7L390.6 146.9L429.9 19.5L450.8 97.0L435.2 24.9L515.1 38.8L502.8 36.1L363.2 143.8L351.9 172.6L438.7 81.2L436.2 85.1L393 102.4L402.3 137.6L503.9 39.5L511.4 21.7L472.9 24.1L380.6 135.2L451.5 47.2L444 16.9L459.3 72.7L520 12.0L415 62.4L450.1 81.4L470.1 47.9L380.9 144.7L504.1 11.5L472.5 61.7L420.2 83.8L447 30.2L475.4 46.9L475.2 67.7L501.8 10.9L399.3 86.4L374.8 134.3L407.3 132.7L463.7 51.6L416.8 62.8L481.4 52.5L427 30.3L489.2 18.0L430.8 112.2L515.7 32.0L356.4 173.0L379 114.8L436.3 70.8L360 172.5L376.4 142.1L363.5 146.0L450.9 55.6L465.1 74.9L412.8 93.7L518.8 25.3L496.4 13.8L493.6 26.1L431.8 108.2L495.1 17.1L484.3 30.7L373.8 115.0L397 78.4L358.1 154.3L475.5 31.5L461.7 85.2L442.5 64.7L492.6 45.3L469.5 76.1L352.4 165.7L415.2 121.4L473 69.7L475.6 16.2L450.3 50.0L493 56.0L530 16.4L468.3 78.9L390.9 125.2L398.8 138.0L417.9 76.6L436.2 10.1L463.3 34.9L320 202.4L478.6 45.6L461 16.0L440.6 25.7L437 29.6L348.7 178.5L382.3 118.3L382 123.7L461.6 48.9L338.2 173.5L470.2 77.6L387.1 119.7L468.8 46.1L329.4 193.8L489.5 11.0L419.8 50.7L405.8 60.8L429.6 70.8L455 85.6L428.1 40.3L493 49.6L448.9 18.1L406.6 91.0L424.2 69.1L415.9 68.0L480.1 39.6L497.7 36.1L367.7 166.8L443.4 84.7L378.6 142.8L424.8 89.4L432.7 55.6L448 97.4L456 86.3L408.7 132.9L336.2 178.5L431.1 102.5L451.7 12.6L425.1 64.9L362.4 136.0L455 90.9L379.3 126.0L464.5 61.0L460 20.9L397.6 131.4L350.5 164.7L362.3 151.4L481.4 34.6L454.1 14.9L411 61.2L451 66.9L473.9 77.1L455.1 48.5L510.9 18.6L386.3 103.8L340.2 169.7L383.8 126.6L484.3 67.3L529 10.3L403.1 99.0L367.7 125.6L429 98.0L457.2 8.1L523.6 19.2L517.6 14.3L467.7 61.4L388.3 129.2L520.3 17.1L320.1 199.9L399.9 107.4L433 27.3L513 21.5L406 64.3L402.6 92.8L392.3 137.1L322.9 199.8L382.9 122.6L526 13.4L489.2 35.3L401.4 88.2L524.2 30.7L395.1 115.7L417.6 77.9L485 24.3L436.3 19.5L522.8 22.0L522.8 26.4L372.4 143.3L385.6 142.1L449.8 38.1L466.8 43.2L487.7 24.0L468.1 76.4L459.9 74.7L328.4 194.6L453.8 55.5L373.6 157.2L417.6 55.9L486.7 52.1L496.9 54.7L357.6 158.3L411.1 107.4L394.4 111.2L408.7 129.2L379.5 118.6L419.9 35.2L429.8 111.3L425.4 100.1L495.5 56.4L320.7 202.0L469.4 28.4L422.1 111.5L450.7 60.1"/></g>
<path class="tc" d="M51.20 16.15v2.8M51.20 217.65v-2.8M69.29 16.15v1.4M69.29 217.65v-1.4M79.87 16.15v1.4M79.87 217.65v-1.4M87.38 16.15v1.4M87.38 217.65v-1.4M93.21 16.15v1.4M93.21 217.65v-1.4M97.97 16.15v1.4M97.97 217.65v-1.4M101.99 16.15v1.4M101.99 217.65v-1.4M105.48 16.15v1.4M105.48 217.65v-1.4M108.55 16.15v1.4M108.55 217.65v-1.4M111.30 16.15v2.8M111.30 217.65v-2.8M129.39 16.15v1.4M129.39 217.65v-1.4M139.97 16.15v1.4M139.97 217.65v-1.4M147.48 16.15v1.4M147.48 217.65v-1.4M153.31 16.15v1.4M153.31 217.65v-1.4M158.07 16.15v1.4M158.07 217.65v-1.4M162.09 16.15v1.4M162.09 217.65v-1.4M165.58 16.15v1.4M165.58 217.65v-1.4M168.65 16.15v1.4M168.65 217.65v-1.4M171.40 16.15v2.8M171.40 217.65v-2.8M189.49 16.15v1.4M189.49 217.65v-1.4M200.07 16.15v1.4M200.07 217.65v-1.4M207.58 16.15v1.4M207.58 217.65v-1.4M213.41 16.15v1.4M213.41 217.65v-1.4M218.17 16.15v1.4M218.17 217.65v-1.4M222.19 16.15v1.4M222.19 217.65v-1.4M225.68 16.15v1.4M225.68 217.65v-1.4M228.75 16.15v1.4M228.75 217.65v-1.4M231.50 16.15v2.8M231.50 217.65v-2.8M249.59 16.15v1.4M249.59 217.65v-1.4M260.17 16.15v1.4M260.17 217.65v-1.4M267.68 16.15v1.4M267.68 217.65v-1.4M273.51 16.15v1.4M273.51 217.65v-1.4M278.27 16.15v1.4M278.27 217.65v-1.4M282.29 16.15v1.4M282.29 217.65v-1.4M285.78 16.15v1.4M285.78 217.65v-1.4M288.85 16.15v1.4M288.85 217.65v-1.4M51.20 191.23h1.4M291.60 191.23h-1.4M51.20 173.08h1.4M291.60 173.08h-1.4M51.20 160.21h1.4M291.60 160.21h-1.4M51.20 150.22h1.4M291.60 150.22h-1.4M51.20 142.06h1.4M291.60 142.06h-1.4M51.20 135.16h1.4M291.60 135.16h-1.4M51.20 129.19h1.4M291.60 129.19h-1.4M51.20 123.92h1.4M291.60 123.92h-1.4M51.20 119.20h2.8M291.60 119.20h-2.8M51.20 88.18h1.4M291.60 88.18h-1.4M51.20 70.03h1.4M291.60 70.03h-1.4M51.20 57.16h1.4M291.60 57.16h-1.4M51.20 47.17h1.4M291.60 47.17h-1.4M51.20 39.01h1.4M291.60 39.01h-1.4M51.20 32.11h1.4M291.60 32.11h-1.4M51.20 26.14h1.4M291.60 26.14h-1.4M51.20 20.87h1.4M291.60 20.87h-1.4"/>
<path class="tc" d="M317.60 16.15v2.8M317.60 217.65v-2.8M335.67 16.15v1.4M335.67 217.65v-1.4M346.24 16.15v1.4M346.24 217.65v-1.4M353.74 16.15v1.4M353.74 217.65v-1.4M359.56 16.15v1.4M359.56 217.65v-1.4M364.31 16.15v1.4M364.31 217.65v-1.4M368.33 16.15v1.4M368.33 217.65v-1.4M371.81 16.15v1.4M371.81 217.65v-1.4M374.88 16.15v1.4M374.88 217.65v-1.4M377.62 16.15v2.8M377.62 217.65v-2.8M395.69 16.15v1.4M395.69 217.65v-1.4M406.26 16.15v1.4M406.26 217.65v-1.4M413.76 16.15v1.4M413.76 217.65v-1.4M419.58 16.15v1.4M419.58 217.65v-1.4M424.33 16.15v1.4M424.33 217.65v-1.4M428.35 16.15v1.4M428.35 217.65v-1.4M431.83 16.15v1.4M431.83 217.65v-1.4M434.90 16.15v1.4M434.90 217.65v-1.4M437.65 16.15v2.8M437.65 217.65v-2.8M455.72 16.15v1.4M455.72 217.65v-1.4M466.29 16.15v1.4M466.29 217.65v-1.4M473.79 16.15v1.4M473.79 217.65v-1.4M479.61 16.15v1.4M479.61 217.65v-1.4M484.36 16.15v1.4M484.36 217.65v-1.4M488.38 16.15v1.4M488.38 217.65v-1.4M491.86 16.15v1.4M491.86 217.65v-1.4M494.93 16.15v1.4M494.93 217.65v-1.4M497.68 16.15v2.8M497.68 217.65v-2.8M515.74 16.15v1.4M515.74 217.65v-1.4M526.31 16.15v1.4M526.31 217.65v-1.4M533.81 16.15v1.4M533.81 217.65v-1.4M539.63 16.15v1.4M539.63 217.65v-1.4M544.38 16.15v1.4M544.38 217.65v-1.4M548.40 16.15v1.4M548.40 217.65v-1.4M551.88 16.15v1.4M551.88 217.65v-1.4M554.95 16.15v1.4M554.95 217.65v-1.4M317.60 191.23h1.4M557.70 191.23h-1.4M317.60 173.08h1.4M557.70 173.08h-1.4M317.60 160.21h1.4M557.70 160.21h-1.4M317.60 150.22h1.4M557.70 150.22h-1.4M317.60 142.06h1.4M557.70 142.06h-1.4M317.60 135.16h1.4M557.70 135.16h-1.4M317.60 129.19h1.4M557.70 129.19h-1.4M317.60 123.92h1.4M557.70 123.92h-1.4M317.60 119.20h2.8M557.70 119.20h-2.8M317.60 88.18h1.4M557.70 88.18h-1.4M317.60 70.03h1.4M557.70 70.03h-1.4M317.60 57.16h1.4M557.70 57.16h-1.4M317.60 47.17h1.4M557.70 47.17h-1.4M317.60 39.01h1.4M557.70 39.01h-1.4M317.60 32.11h1.4M557.70 32.11h-1.4M317.60 26.14h1.4M557.70 26.14h-1.4M317.60 20.87h1.4M557.70 20.87h-1.4"/>
<rect class="ax" x="51.2" y="16.1" width="240.4" height="201.5"/>
<rect class="ax" x="317.6" y="16.1" width="240.4" height="201.5"/>
<text class="tt" x="170.6" y="11.5" text-anchor="middle">Scalar dark matter</text>
<text class="tt" x="437" y="11.5" text-anchor="middle">Fermion dark matter</text>
<text x="51.2" y="231.8" text-anchor="middle" class="tk">10<tspan dy="-5.2" dx="0.5" class="sp">0</tspan></text><text x="317.6" y="231.8" text-anchor="middle" class="tk">10<tspan dy="-5.2" dx="0.5" class="sp">0</tspan></text><text x="111.3" y="231.8" text-anchor="middle" class="tk">10<tspan dy="-5.2" dx="0.5" class="sp">1</tspan></text><text x="377.7" y="231.8" text-anchor="middle" class="tk">10<tspan dy="-5.2" dx="0.5" class="sp">1</tspan></text><text x="171.4" y="231.8" text-anchor="middle" class="tk">10<tspan dy="-5.2" dx="0.5" class="sp">2</tspan></text><text x="437.8" y="231.8" text-anchor="middle" class="tk">10<tspan dy="-5.2" dx="0.5" class="sp">2</tspan></text><text x="231.5" y="231.8" text-anchor="middle" class="tk">10<tspan dy="-5.2" dx="0.5" class="sp">3</tspan></text><text x="497.9" y="231.8" text-anchor="middle" class="tk">10<tspan dy="-5.2" dx="0.5" class="sp">3</tspan></text><text x="291.6" y="231.8" text-anchor="middle" class="tk">10<tspan dy="-5.2" dx="0.5" class="sp">4</tspan></text><text x="558.0" y="231.8" text-anchor="middle" class="tk">10<tspan dy="-5.2" dx="0.5" class="sp">4</tspan></text>
<text x="46.0" y="19.6" text-anchor="end" class="tk">10<tspan dy="-5.2" dx="0.5" class="sp">0</tspan></text><text x="46.0" y="122.7" text-anchor="end" class="tk">10<tspan dy="-5.2" dx="0.5" class="sp"><tspan textLength="7.6" lengthAdjust="spacingAndGlyphs">−</tspan><tspan dx="-0.6">1</tspan></tspan></text>
<text class="lb" y="246.5"><tspan class="it mm" x="139.6">m</tspan><tspan class="it sb" x="150.8" y="246.3">ψ</tspan><tspan x="163.2" y="246.5">(GeV)</tspan></text>
<text class="lb" y="246.5"><tspan class="it mm" x="407.2">m</tspan><tspan class="it sb2" x="418.6" y="247.2">ϕ</tspan><tspan x="428.2" y="246.5">(GeV)</tspan></text>
<text class="lb it" transform="translate(10.1,123.5) rotate(-90)">λ<tspan class="ss" dy="2.2" dx="1">S</tspan></text>
</svg>
</body></html>
